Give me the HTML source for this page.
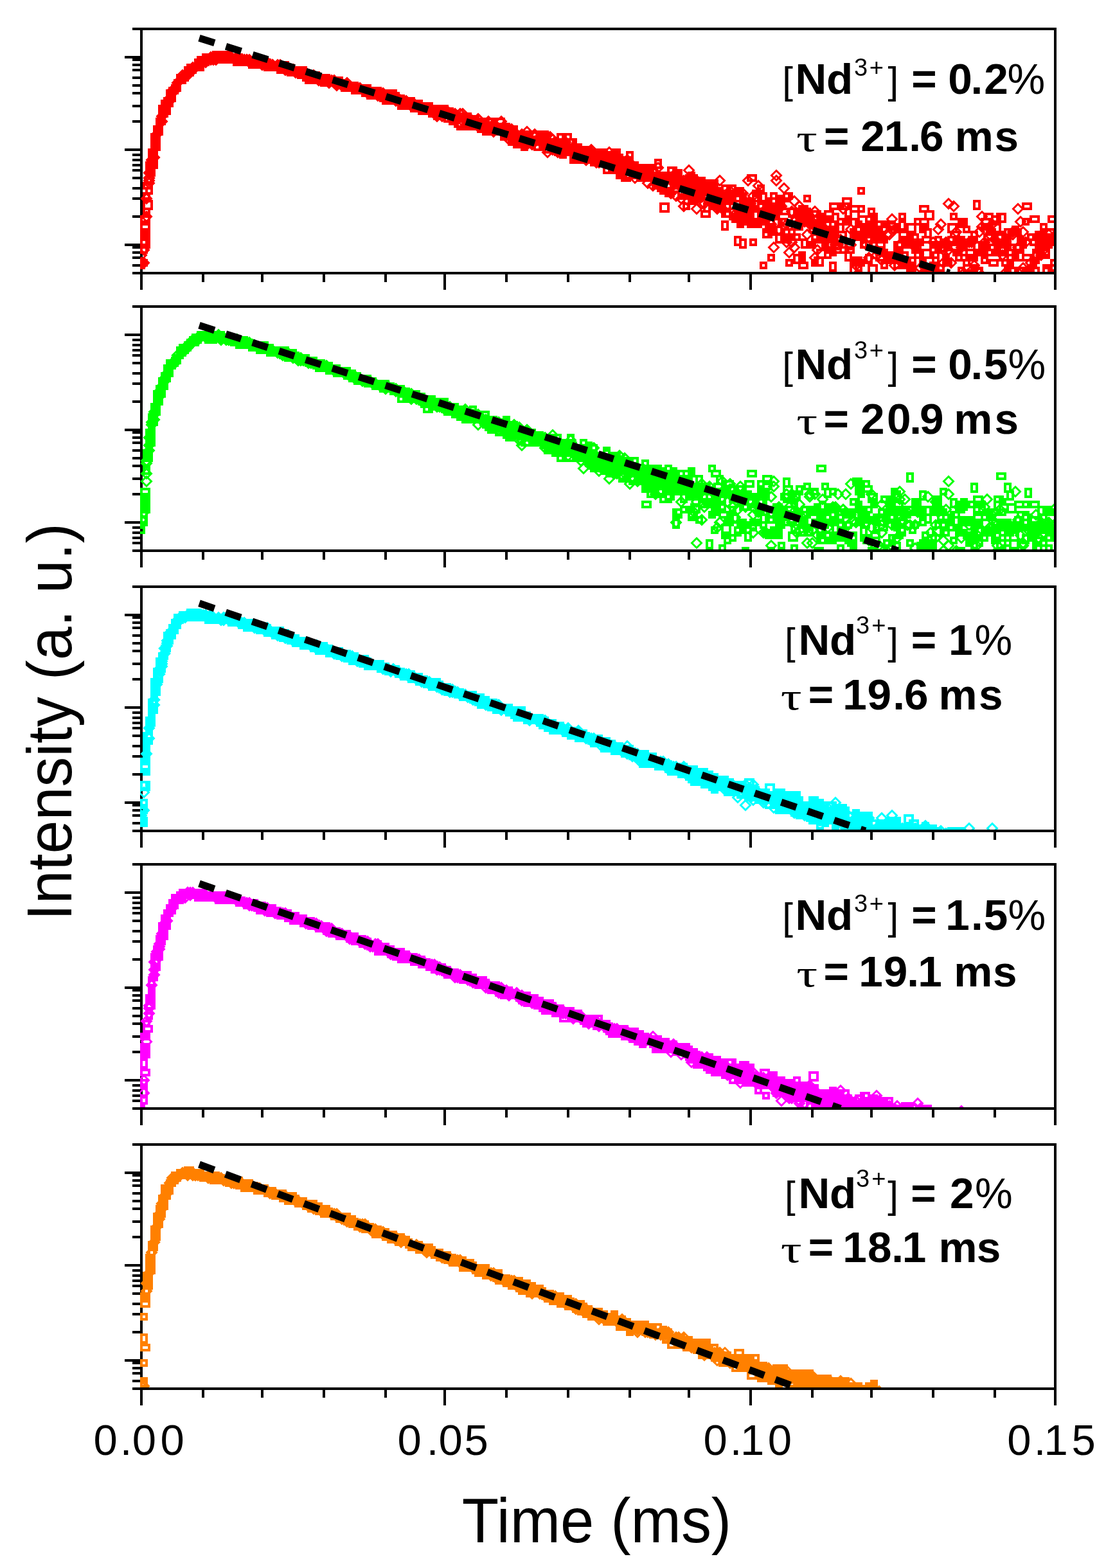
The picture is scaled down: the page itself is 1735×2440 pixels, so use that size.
<!DOCTYPE html>
<html><head><meta charset="utf-8"><title>Nd decay curves</title><style>
html,body{margin:0;padding:0;background:#fff;overflow:hidden}
svg{display:block}
text{fill:#000;font-family:"Liberation Sans",Arial,Helvetica,sans-serif}
.b{font-weight:bold;font-size:67.5px}
.r{font-weight:normal;font-size:60px}
.s{font-weight:normal;font-size:38px}
.p{font-weight:normal;font-size:66px}
.t{font-weight:normal;font-size:67px}
.tau{font-family:"Liberation Serif","Times New Roman",serif;font-weight:normal;font-size:58.5px}
.title{font-size:97.5px}
</style></head>
<body><svg xmlns="http://www.w3.org/2000/svg" width="1735" height="2440" viewBox="0 0 1735 2440">
<rect width="1735" height="2440" fill="#fff"/>
<rect x="206" y="43" width="1438" height="4"/>
<rect x="206" y="423" width="1438" height="4"/>
<rect x="218" y="43" width="4" height="408"/>
<rect x="1640" y="43" width="4" height="408"/>
<rect x="314" y="427" width="4" height="12"/>
<rect x="406" y="427" width="4" height="12"/>
<rect x="502" y="427" width="4" height="12"/>
<rect x="598" y="427" width="4" height="12"/>
<rect x="690" y="427" width="4" height="24"/>
<rect x="786" y="427" width="4" height="12"/>
<rect x="882" y="427" width="4" height="12"/>
<rect x="978" y="427" width="4" height="12"/>
<rect x="1070" y="427" width="4" height="12"/>
<rect x="1166" y="427" width="4" height="24"/>
<rect x="1262" y="427" width="4" height="12"/>
<rect x="1354" y="427" width="4" height="12"/>
<rect x="1450" y="427" width="4" height="12"/>
<rect x="1546" y="427" width="4" height="12"/>
<rect x="206" y="423" width="12" height="4"/>
<rect x="206" y="411" width="12" height="4"/>
<rect x="206" y="399" width="12" height="4"/>
<rect x="206" y="391" width="12" height="4"/>
<rect x="206" y="383" width="12" height="4"/>
<rect x="194" y="379" width="24" height="4"/>
<rect x="206" y="335" width="12" height="4"/>
<rect x="206" y="307" width="12" height="4"/>
<rect x="206" y="291" width="12" height="4"/>
<rect x="206" y="275" width="12" height="4"/>
<rect x="206" y="263" width="12" height="4"/>
<rect x="206" y="255" width="12" height="4"/>
<rect x="206" y="247" width="12" height="4"/>
<rect x="206" y="239" width="12" height="4"/>
<rect x="194" y="231" width="24" height="4"/>
<rect x="206" y="187" width="12" height="4"/>
<rect x="206" y="163" width="12" height="4"/>
<rect x="206" y="143" width="12" height="4"/>
<rect x="206" y="131" width="12" height="4"/>
<rect x="206" y="119" width="12" height="4"/>
<rect x="206" y="107" width="12" height="4"/>
<rect x="206" y="99" width="12" height="4"/>
<rect x="206" y="91" width="12" height="4"/>
<rect x="194" y="87" width="24" height="4"/>
<rect x="206" y="43" width="12" height="4"/>
<rect x="206" y="475" width="1438" height="4"/>
<rect x="206" y="855" width="1438" height="4"/>
<rect x="218" y="475" width="4" height="408"/>
<rect x="1640" y="475" width="4" height="408"/>
<rect x="314" y="859" width="4" height="12"/>
<rect x="406" y="859" width="4" height="12"/>
<rect x="502" y="859" width="4" height="12"/>
<rect x="598" y="859" width="4" height="12"/>
<rect x="690" y="859" width="4" height="24"/>
<rect x="786" y="859" width="4" height="12"/>
<rect x="882" y="859" width="4" height="12"/>
<rect x="978" y="859" width="4" height="12"/>
<rect x="1070" y="859" width="4" height="12"/>
<rect x="1166" y="859" width="4" height="24"/>
<rect x="1262" y="859" width="4" height="12"/>
<rect x="1354" y="859" width="4" height="12"/>
<rect x="1450" y="859" width="4" height="12"/>
<rect x="1546" y="859" width="4" height="12"/>
<rect x="206" y="855" width="12" height="4"/>
<rect x="206" y="843" width="12" height="4"/>
<rect x="206" y="835" width="12" height="4"/>
<rect x="206" y="827" width="12" height="4"/>
<rect x="206" y="819" width="12" height="4"/>
<rect x="194" y="811" width="24" height="4"/>
<rect x="206" y="767" width="12" height="4"/>
<rect x="206" y="743" width="12" height="4"/>
<rect x="206" y="723" width="12" height="4"/>
<rect x="206" y="711" width="12" height="4"/>
<rect x="206" y="699" width="12" height="4"/>
<rect x="206" y="687" width="12" height="4"/>
<rect x="206" y="679" width="12" height="4"/>
<rect x="206" y="671" width="12" height="4"/>
<rect x="194" y="667" width="24" height="4"/>
<rect x="206" y="623" width="12" height="4"/>
<rect x="206" y="595" width="12" height="4"/>
<rect x="206" y="579" width="12" height="4"/>
<rect x="206" y="563" width="12" height="4"/>
<rect x="206" y="551" width="12" height="4"/>
<rect x="206" y="543" width="12" height="4"/>
<rect x="206" y="535" width="12" height="4"/>
<rect x="206" y="527" width="12" height="4"/>
<rect x="194" y="519" width="24" height="4"/>
<rect x="206" y="475" width="12" height="4"/>
<rect x="206" y="911" width="1438" height="4"/>
<rect x="206" y="1291" width="1438" height="4"/>
<rect x="218" y="911" width="4" height="408"/>
<rect x="1640" y="911" width="4" height="408"/>
<rect x="314" y="1295" width="4" height="12"/>
<rect x="406" y="1295" width="4" height="12"/>
<rect x="502" y="1295" width="4" height="12"/>
<rect x="598" y="1295" width="4" height="12"/>
<rect x="690" y="1295" width="4" height="24"/>
<rect x="786" y="1295" width="4" height="12"/>
<rect x="882" y="1295" width="4" height="12"/>
<rect x="978" y="1295" width="4" height="12"/>
<rect x="1070" y="1295" width="4" height="12"/>
<rect x="1166" y="1295" width="4" height="24"/>
<rect x="1262" y="1295" width="4" height="12"/>
<rect x="1354" y="1295" width="4" height="12"/>
<rect x="1450" y="1295" width="4" height="12"/>
<rect x="1546" y="1295" width="4" height="12"/>
<rect x="206" y="1291" width="12" height="4"/>
<rect x="206" y="1279" width="12" height="4"/>
<rect x="206" y="1267" width="12" height="4"/>
<rect x="206" y="1259" width="12" height="4"/>
<rect x="206" y="1251" width="12" height="4"/>
<rect x="194" y="1247" width="24" height="4"/>
<rect x="206" y="1203" width="12" height="4"/>
<rect x="206" y="1175" width="12" height="4"/>
<rect x="206" y="1159" width="12" height="4"/>
<rect x="206" y="1143" width="12" height="4"/>
<rect x="206" y="1131" width="12" height="4"/>
<rect x="206" y="1123" width="12" height="4"/>
<rect x="206" y="1115" width="12" height="4"/>
<rect x="206" y="1107" width="12" height="4"/>
<rect x="194" y="1099" width="24" height="4"/>
<rect x="206" y="1055" width="12" height="4"/>
<rect x="206" y="1031" width="12" height="4"/>
<rect x="206" y="1011" width="12" height="4"/>
<rect x="206" y="999" width="12" height="4"/>
<rect x="206" y="987" width="12" height="4"/>
<rect x="206" y="975" width="12" height="4"/>
<rect x="206" y="967" width="12" height="4"/>
<rect x="206" y="959" width="12" height="4"/>
<rect x="194" y="955" width="24" height="4"/>
<rect x="206" y="911" width="12" height="4"/>
<rect x="206" y="1343" width="1438" height="4"/>
<rect x="206" y="1723" width="1438" height="4"/>
<rect x="218" y="1343" width="4" height="408"/>
<rect x="1640" y="1343" width="4" height="408"/>
<rect x="314" y="1727" width="4" height="12"/>
<rect x="406" y="1727" width="4" height="12"/>
<rect x="502" y="1727" width="4" height="12"/>
<rect x="598" y="1727" width="4" height="12"/>
<rect x="690" y="1727" width="4" height="24"/>
<rect x="786" y="1727" width="4" height="12"/>
<rect x="882" y="1727" width="4" height="12"/>
<rect x="978" y="1727" width="4" height="12"/>
<rect x="1070" y="1727" width="4" height="12"/>
<rect x="1166" y="1727" width="4" height="24"/>
<rect x="1262" y="1727" width="4" height="12"/>
<rect x="1354" y="1727" width="4" height="12"/>
<rect x="1450" y="1727" width="4" height="12"/>
<rect x="1546" y="1727" width="4" height="12"/>
<rect x="206" y="1723" width="12" height="4"/>
<rect x="206" y="1711" width="12" height="4"/>
<rect x="206" y="1703" width="12" height="4"/>
<rect x="206" y="1695" width="12" height="4"/>
<rect x="206" y="1687" width="12" height="4"/>
<rect x="194" y="1679" width="24" height="4"/>
<rect x="206" y="1635" width="12" height="4"/>
<rect x="206" y="1611" width="12" height="4"/>
<rect x="206" y="1591" width="12" height="4"/>
<rect x="206" y="1579" width="12" height="4"/>
<rect x="206" y="1567" width="12" height="4"/>
<rect x="206" y="1555" width="12" height="4"/>
<rect x="206" y="1547" width="12" height="4"/>
<rect x="206" y="1539" width="12" height="4"/>
<rect x="194" y="1535" width="24" height="4"/>
<rect x="206" y="1491" width="12" height="4"/>
<rect x="206" y="1463" width="12" height="4"/>
<rect x="206" y="1447" width="12" height="4"/>
<rect x="206" y="1431" width="12" height="4"/>
<rect x="206" y="1419" width="12" height="4"/>
<rect x="206" y="1411" width="12" height="4"/>
<rect x="206" y="1403" width="12" height="4"/>
<rect x="206" y="1395" width="12" height="4"/>
<rect x="194" y="1387" width="24" height="4"/>
<rect x="206" y="1343" width="12" height="4"/>
<rect x="206" y="1779" width="1438" height="4"/>
<rect x="206" y="2159" width="1438" height="4"/>
<rect x="218" y="1779" width="4" height="408"/>
<rect x="1640" y="1779" width="4" height="408"/>
<rect x="314" y="2163" width="4" height="12"/>
<rect x="406" y="2163" width="4" height="12"/>
<rect x="502" y="2163" width="4" height="12"/>
<rect x="598" y="2163" width="4" height="12"/>
<rect x="690" y="2163" width="4" height="24"/>
<rect x="786" y="2163" width="4" height="12"/>
<rect x="882" y="2163" width="4" height="12"/>
<rect x="978" y="2163" width="4" height="12"/>
<rect x="1070" y="2163" width="4" height="12"/>
<rect x="1166" y="2163" width="4" height="24"/>
<rect x="1262" y="2163" width="4" height="12"/>
<rect x="1354" y="2163" width="4" height="12"/>
<rect x="1450" y="2163" width="4" height="12"/>
<rect x="1546" y="2163" width="4" height="12"/>
<rect x="206" y="2159" width="12" height="4"/>
<rect x="206" y="2147" width="12" height="4"/>
<rect x="206" y="2135" width="12" height="4"/>
<rect x="206" y="2127" width="12" height="4"/>
<rect x="206" y="2119" width="12" height="4"/>
<rect x="194" y="2115" width="24" height="4"/>
<rect x="206" y="2071" width="12" height="4"/>
<rect x="206" y="2043" width="12" height="4"/>
<rect x="206" y="2027" width="12" height="4"/>
<rect x="206" y="2011" width="12" height="4"/>
<rect x="206" y="1999" width="12" height="4"/>
<rect x="206" y="1991" width="12" height="4"/>
<rect x="206" y="1983" width="12" height="4"/>
<rect x="206" y="1975" width="12" height="4"/>
<rect x="194" y="1967" width="24" height="4"/>
<rect x="206" y="1923" width="12" height="4"/>
<rect x="206" y="1899" width="12" height="4"/>
<rect x="206" y="1879" width="12" height="4"/>
<rect x="206" y="1867" width="12" height="4"/>
<rect x="206" y="1855" width="12" height="4"/>
<rect x="206" y="1843" width="12" height="4"/>
<rect x="206" y="1835" width="12" height="4"/>
<rect x="206" y="1827" width="12" height="4"/>
<rect x="194" y="1823" width="24" height="4"/>
<rect x="206" y="1779" width="12" height="4"/>
<marker id="s1_1212" markerUnits="userSpaceOnUse" markerWidth="12" markerHeight="12" refX="0" refY="0" overflow="visible"><path d="M2 2h8v8h-8z" fill="none" stroke="#ff0000" stroke-width="4" shape-rendering="crispEdges"/></marker>
<marker id="d1" markerUnits="userSpaceOnUse" markerWidth="20" markerHeight="20" refX="10" refY="10" overflow="visible"><path d="M10 2.5l7.5 7.5l-7.5 7.5l-7.5-7.5z" fill="none" stroke="#ff0000" stroke-width="3"/></marker>
<marker id="s1_1216" markerUnits="userSpaceOnUse" markerWidth="12" markerHeight="16" refX="0" refY="0" overflow="visible"><path d="M2 2h8v12h-8z" fill="none" stroke="#ff0000" stroke-width="4" shape-rendering="crispEdges"/></marker>
<marker id="s1_1616" markerUnits="userSpaceOnUse" markerWidth="16" markerHeight="16" refX="0" refY="0" overflow="visible"><path d="M2 2h12v12h-12z" fill="none" stroke="#ff0000" stroke-width="4" shape-rendering="crispEdges"/></marker>
<marker id="s1_1612" markerUnits="userSpaceOnUse" markerWidth="16" markerHeight="12" refX="0" refY="0" overflow="visible"><path d="M2 2h12v8h-12z" fill="none" stroke="#ff0000" stroke-width="4" shape-rendering="crispEdges"/></marker>
<clipPath id="c1"><rect x="218" y="47" width="1422" height="376"/></clipPath>
<g clip-path="url(#c1)" fill="none" stroke="none">
<polyline points="214,407 214,403 218,371 222,323 226,291 234,227 234,227 238,207 242,183 250,171 250,167 250,159 254,159 262,135 270,127 270,123 270,123 274,119 274,119 274,119 278,115 282,115 282,111 286,107 294,99 294,103 298,99 298,99 298,99 302,95 306,91 310,91 314,83 318,87 326,87 330,79 330,83 334,83 334,83 334,83 342,83 346,83 350,83 358,83 358,83 358,83 362,83 366,87 366,87 370,87 370,91 374,87 378,87 382,87 382,91 386,91 386,87 390,91 402,91 406,91 410,91 414,95 414,95 422,95 422,99 426,99 426,95 434,99 442,103 446,99 450,103 450,103 450,103 454,107 454,103 458,103 458,107 458,107 466,111 474,119 474,115 478,111 482,115 482,115 490,115 494,119 502,119 502,119 502,119 506,119 510,123 518,123 522,123 526,123 530,127 530,123 534,127 534,127 538,127 546,127 550,135 558,135 558,135 570,135 574,139 578,139 586,139 590,143 594,143 598,139 598,147 602,143 606,143 610,151 614,147 618,151 630,151 634,151 634,159 634,155 638,159 642,155 646,159 646,163 650,167 650,159 654,163 654,163 662,163 662,159 674,171 678,171 686,171 686,171 690,179 698,183 702,171 702,179 706,179 714,179 714,175 718,175 722,183 722,191 730,191 730,187 734,191 742,195 742,191 750,191 754,195 758,183 766,191 770,199 770,191 774,195 774,195 778,191 778,195 782,203 790,203 790,199 794,203 794,195 798,211 806,203 806,211 810,223 814,215 818,211 818,215 830,215 834,211 838,223 842,219 842,215 846,219 862,231 866,207 870,231 874,231 874,223 874,219 878,223 878,207 882,215 886,243 890,227 894,223 898,243 906,243 906,235 910,231 910,239 914,235 926,243 926,243 942,247 942,251 946,255 946,247 950,231 950,247 954,247 954,259 958,255 958,247 958,239 962,243 970,255 974,235 978,259 978,259 982,251 986,259 986,259 990,259 994,259 1002,267 1002,255 1006,255 1006,271 1006,259 1010,271 1014,275 1014,283 1018,271 1026,275 1034,283 1034,283 1034,267 1034,295 1038,295 1042,279 1046,283 1046,283 1054,295 1062,315 1062,287 1074,287 1074,271 1074,287 1082,287 1090,279 1090,287 1090,291 1094,299 1094,291 1098,287 1106,279 1110,315 1114,319 1118,319 1126,295 1126,327 1134,303 1142,319 1142,295 1146,335 1146,343 1150,311 1154,339 1158,315 1162,323 1166,343 1166,371 1170,295 1170,343 1170,303 1174,343 1174,295 1174,295 1178,323 1182,407 1182,323 1186,311 1190,347 1194,395 1198,299 1198,319 1210,307 1214,363 1218,367 1218,355 1222,403 1230,335 1234,323 1238,347 1238,327 1242,335 1250,339 1250,303 1254,375 1258,375 1262,403 1270,339 1270,367 1282,343 1286,359 1286,383 1290,387 1306,375 1310,315 1310,339 1322,399 1330,343 1330,359 1330,411 1334,319 1334,403 1334,291 1338,367 1342,347 1342,351 1354,351 1354,375 1354,339 1370,343 1370,387 1370,367 1382,391 1382,343 1386,399 1390,351 1390,347 1390,387 1398,331 1402,403 1402,391 1410,411 1410,375 1410,359 1414,399 1414,375 1418,383 1422,339 1426,371 1430,351 1430,347 1430,403 1434,411 1438,411 1450,399 1450,391 1450,375 1454,367 1454,423 1458,411 1466,399 1466,395 1470,403 1470,403 1478,331 1482,387 1486,395 1490,415 1494,339 1494,387 1498,419 1498,351 1498,403 1510,367 1510,411 1526,347 1526,399 1534,351 1534,387 1538,355 1538,379 1546,383 1558,403 1562,411 1566,407 1566,407 1570,379 1574,355 1574,351 1574,391 1582,415 1590,339 1594,419 1598,411 1598,363 1602,371 1606,423 1610,359 1610,363 1610,359 1614,359 1618,347 1618,347 1634,403 218,403 218,359 222,359 222,299 230,259 230,243 234,231 234,227 238,207 242,191 242,191 242,183 246,179 246,179 246,175 250,171 250,167" marker-start="url(#s1_1212)" marker-mid="url(#s1_1212)" marker-end="url(#s1_1212)"/>
<polyline points="220,397 228,309 232,285 232,277 236,249 252,189 252,181 256,173 264,157 264,153 268,141 272,141 276,129 284,117 288,117 288,117 292,117 292,117 292,113 296,109 300,109 300,105 304,105 312,97 320,97 320,93 320,93 328,93 328,89 332,89 332,93 336,93 348,89 356,89 360,89 368,93 368,89 372,93 376,93 380,93 380,93 384,93 384,93 388,93 388,97 396,97 400,97 408,101 412,101 412,101 416,101 416,97 420,101 420,101 424,101 424,101 424,101 432,101 436,101 440,105 440,105 444,105 444,105 444,109 444,105 448,109 456,109 460,113 464,113 468,113 468,113 468,113 476,117 476,117 476,113 480,117 488,117 492,121 496,125 496,125 504,125 512,129 516,125 520,129 520,125 524,133 524,129 528,129 532,133 532,133 540,129 544,133 560,137 568,141 568,141 572,145 572,141 576,145 584,145 584,145 584,145 584,145 588,149 592,149 592,145 596,145 600,149 608,153 612,149 616,157 620,153 620,157 624,157 628,157 632,157 632,161 636,161 640,165 644,161 648,165 656,169 664,169 664,169 668,169 676,177 676,173 680,181 680,173 688,181 688,177 692,177 696,173 696,173 700,181 700,181 704,181 704,177 708,177 712,185 712,181 716,177 720,189 720,177 724,185 732,193 732,185 736,193 740,193 744,185 744,197 748,193 756,193 756,197 760,189 764,201 768,193 768,193 768,201 768,205 780,189 784,197 784,201 792,217 792,209 792,217 796,201 804,209 804,217 812,209 820,225 820,205 824,217 828,225 832,213 832,213 832,209 840,213 844,221 852,237 856,225 856,213 856,229 860,217 860,229 860,225 860,233 864,225 864,233 868,237 876,225 876,233 880,221 884,229 888,233 892,229 892,229 904,237 912,249 912,249 912,245 920,237 920,233 924,241 928,249 928,253 928,245 932,253 940,249 940,245 944,245 944,245 948,245 948,237 972,269 976,249 980,261 984,257 988,277 988,265 988,261 996,269 1004,269 1004,273 1008,285 1016,265 1016,289 1020,281 1024,261 1036,277 1044,281 1044,301 1048,273 1052,305 1056,285 1060,285 1060,309 1060,281 1064,321 1064,293 1064,281 1064,285 1068,285 1068,293 1072,265 1072,281 1076,305 1084,325 1084,281 1092,317 1096,317 1100,293 1104,301 1108,305 1116,321 1116,325 1120,281 1124,325 1128,309 1132,301 1136,297 1144,333 1156,301 1160,337 1160,317 1164,281 1168,317 1172,305 1180,289 1192,325 1192,333 1200,349 1204,385 1208,281 1208,273 1212,357 1216,321 1220,293 1224,349 1224,377 1228,393 1232,377 1232,329 1236,385 1236,345 1236,313 1240,349 1244,321 1252,345 1256,365 1260,345 1260,349 1264,345 1264,349 1268,329 1268,401 1272,389 1276,349 1280,341 1284,357 1300,381 1304,373 1304,381 1308,373 1308,373 1312,325 1324,381 1324,357 1332,429 1332,413 1348,381 1352,369 1352,401 1364,397 1364,389 1372,405 1380,365 1384,365 1388,341 1392,413 1392,357 1400,381 1400,381 1424,385 1432,417 1440,421 1440,417 1452,377 1460,357 1464,349 1468,409 1468,385 1468,389 1472,377 1476,317 1476,389 1480,409 1484,321 1488,361 1496,385 1500,425 1508,377 1512,421 1512,377 1516,413 1520,421 1524,425 1524,361 1528,353 1528,337 1532,377 1540,365 1544,349 1548,373 1552,377 1560,397 1564,425 1576,361 1576,365 1584,325 1584,385 1588,345 1592,361 1592,417 1596,377 1604,409 1620,397 1624,389 1632,365 220,409 220,409 224,409 224,389 228,337 232,281 232,277 232,269 236,257 240,245 244,209 256,169" marker-start="url(#d1)" marker-mid="url(#d1)" marker-end="url(#d1)"/>
<polyline points="218,379 230,259 234,235 238,203 238,199 242,195 242,191 246,171 266,131 270,127 278,115 286,103 302,95 306,87 318,83 330,79 338,83 338,83 342,79 346,83 346,83 354,83 354,83 362,87 366,83 370,87 378,87 386,87 386,91 394,87 394,91 398,91 398,87 402,91 422,95 426,95 430,95 430,95 446,103 446,99 470,111 478,111 486,115 486,111 486,111 490,115 498,119 498,115 502,115 506,119 522,123 522,123 522,123 534,127 538,127 542,127 542,127 542,127 542,127 554,131 562,135 562,131 562,135 566,131 574,135 574,135 574,139 582,135 590,139 598,143 598,143 606,147 610,143 610,147 626,151 630,151 630,151 638,155 638,159 642,155 646,159 650,159 654,159 662,159 670,163 674,171 678,167 678,163 694,167 722,175 722,183 726,187 726,183 726,183 734,179 734,179 742,187 742,187 746,191 750,195 758,195 762,191 770,191 782,191 802,207 802,203 822,211 822,215 830,211 830,219 834,207 834,211 838,211 850,215 854,223 858,223 862,215 862,223 866,219 866,227 870,231 878,223 882,223 890,231 898,239 914,239 918,231 918,231 934,243 934,239 938,243 938,247 950,243 954,231 954,247 974,247 974,243 978,263 978,263 986,263 998,259 1018,279 1018,247 1022,283 1026,283 1026,287 1030,267 1046,267 1054,295 1066,271 1070,267 1086,291 1094,315 1098,283 1102,279 1106,295 1106,279 1106,299 1114,299 1114,291 1122,343 1122,287 1126,295 1134,287 1134,287 1142,367 1142,299 1146,319 1150,299 1150,371 1158,307 1170,311 1178,287 1178,315 1182,299 1186,355 1190,307 1194,351 1198,319 1206,351 1206,303 1206,363 1210,307 1218,299 1222,343 1226,355 1238,331 1242,391 1242,327 1246,331 1246,371 1254,331 1258,347 1274,351 1274,363 1278,375 1278,359 1282,387 1290,355 1290,407 1294,351 1294,331 1298,379 1314,391 1314,323 1322,411 1322,355 1338,371 1346,395 1350,323 1354,331 1358,355 1362,355 1370,403 1374,391 1374,395 1394,387 1398,343 1398,403 1414,399 1414,411 1422,375 1422,387 1438,355 1442,411 1442,411 1446,411 1454,379 1466,371 1470,375 1474,367 1486,391 1490,339 1494,371 1506,367 1510,359 1514,311 1514,375 1522,379 1526,375 1554,383 1562,363 1562,355 1582,391 1582,367 1586,371 1590,415 1602,403 1606,387 1606,391 1622,383 1622,415 1630,363 234,219 242,187 254,159 254,159" marker-start="url(#s1_1216)" marker-mid="url(#s1_1216)" marker-end="url(#s1_1216)"/>
<polyline points="218,371 218,355 218,335 226,251 230,247 234,219 234,207 250,163 250,155 254,151 258,143 258,139 274,115 302,95 306,87 314,83 338,83 346,79 346,83 354,83 358,83 370,87 378,87 398,91 398,91 410,95 418,95 418,95 430,99 434,95 438,99 446,103 462,103 462,107 482,115 498,115 502,119 514,119 518,119 526,123 530,127 538,127 542,127 546,131 554,131 558,131 570,139 578,139 578,139 590,139 590,143 590,139 594,147 610,147 614,147 618,155 642,155 650,163 654,159 662,163 666,163 666,167 678,163 690,175 702,175 706,183 710,187 742,183 742,191 750,191 766,191 778,203 782,203 790,211 794,203 794,207 798,215 802,207 810,207 814,203 814,207 826,203 838,203 870,223 886,239 898,227 898,227 902,227 922,231 926,235 926,235 958,243 958,259 958,251 958,263 966,267 970,263 990,259 990,267 1002,267 1010,267 1018,275 1018,279 1022,267 1022,271 1026,315 1038,259 1042,275 1046,263 1066,295 1066,275 1070,303 1074,299 1094,287 1102,303 1102,311 1106,307 1114,295 1122,323 1122,315 1134,323 1142,291 1146,335 1154,311 1154,307 1158,323 1162,339 1190,315 1202,339 1206,311 1226,323 1234,395 1250,335 1266,427 1266,399 1270,387 1278,355 1282,371 1282,327 1298,347 1322,327 1326,351 1334,335 1350,411 1354,359 1362,359 1378,343 1390,403 1390,375 1398,359 1398,427 1402,367 1410,347 1430,339 1434,387 1438,327 1446,379 1474,347 1486,367 1490,371 1502,387 1526,339 1542,347 1546,363 1550,331 1550,359 1550,379 1554,379 1558,371 1578,423 1602,415 1614,367 1618,387 1622,411 1622,371 1630,367 1634,363 218,343 222,311 230,243 246,163" marker-start="url(#s1_1616)" marker-mid="url(#s1_1616)" marker-end="url(#s1_1616)"/>
<polyline points="218,359 226,263 230,231 238,195 242,183 254,151 258,143 258,139 266,131 266,131 274,115 286,103 286,107 290,99 302,95 302,91 302,91 306,91 310,91 318,87 318,87 322,87 322,87 326,87 334,83 334,83 334,83 342,83 350,87 354,83 386,87 390,91 390,87 394,91 394,87 406,91 410,99 426,95 438,99 446,103 454,107 462,107 466,111 466,107 470,111 478,115 478,115 486,115 490,119 494,115 494,119 502,123 506,119 510,123 514,123 530,127 538,127 542,131 546,131 550,131 550,135 554,131 554,135 566,139 566,135 586,139 598,147 602,139 602,147 614,151 618,151 618,151 622,155 626,151 630,159 638,159 650,167 658,163 662,167 666,167 666,167 682,171 682,167 682,163 686,167 686,167 698,171 702,179 706,179 710,175 714,179 718,183 726,183 734,183 734,183 746,195 754,199 758,195 762,195 762,199 770,183 770,199 782,195 786,203 790,199 790,195 806,207 806,219 810,207 814,207 822,211 830,211 830,215 838,203 842,207 842,219 846,227 854,215 862,223 882,231 882,215 886,239 886,231 890,235 894,231 894,235 894,239 902,231 906,227 910,239 918,247 922,231 922,239 930,243 930,231 938,259 942,243 946,235 946,235 962,251 962,255 966,251 966,247 986,255 986,263 994,263 994,271 994,271 998,267 1002,271 1006,267 1018,267 1030,275 1030,283 1038,267 1046,279 1050,283 1062,295 1074,275 1078,287 1078,303 1082,275 1082,291 1082,275 1086,287 1090,327 1102,315 1114,311 1126,307 1130,295 1130,303 1134,295 1134,331 1138,335 1162,319 1162,271 1178,335 1178,323 1182,339 1186,359 1190,323 1198,323 1198,327 1210,339 1214,323 1218,299 1230,363 1234,327 1242,407 1242,319 1246,323 1262,327 1262,343 1262,363 1270,331 1278,335 1282,355 1286,367 1290,351 1290,315 1302,427 1302,339 1302,359 1306,315 1306,383 1310,339 1310,307 1310,339 1314,383 1322,319 1326,399 1326,363 1338,355 1346,335 1346,351 1350,359 1358,355 1362,395 1362,375 1362,343 1362,363 1374,391 1378,391 1394,375 1402,407 1414,363 1414,423 1418,379 1430,319 1434,367 1446,407 1470,423 1478,359 1490,423 1506,395 1514,415 1518,387 1530,363 1530,331 1538,403 1542,387 1542,335 1554,395 1562,387 1566,395 1566,415 1570,415 1574,355 1578,379 1590,395 1590,315 1590,395 1598,363 1602,399 1602,335 1610,375 1618,387 1622,367 1626,355 1626,363 1630,335 1634,411 222,283 234,215 234,211 238,199 246,171" marker-start="url(#s1_1612)" marker-mid="url(#s1_1612)" marker-end="url(#s1_1612)"/>
<line x1="310" y1="59.2" x2="1477.5" y2="425" stroke="#000" stroke-width="11" stroke-dasharray="25 18.5"/>
</g>
<marker id="s2_1216" markerUnits="userSpaceOnUse" markerWidth="12" markerHeight="16" refX="0" refY="0" overflow="visible"><path d="M2 2h8v12h-8z" fill="none" stroke="#00ff00" stroke-width="4" shape-rendering="crispEdges"/></marker>
<marker id="d2" markerUnits="userSpaceOnUse" markerWidth="20" markerHeight="20" refX="10" refY="10" overflow="visible"><path d="M10 2.5l7.5 7.5l-7.5 7.5l-7.5-7.5z" fill="none" stroke="#00ff00" stroke-width="3"/></marker>
<marker id="s2_1612" markerUnits="userSpaceOnUse" markerWidth="16" markerHeight="12" refX="0" refY="0" overflow="visible"><path d="M2 2h12v8h-12z" fill="none" stroke="#00ff00" stroke-width="4" shape-rendering="crispEdges"/></marker>
<marker id="s2_1212" markerUnits="userSpaceOnUse" markerWidth="12" markerHeight="12" refX="0" refY="0" overflow="visible"><path d="M2 2h8v8h-8z" fill="none" stroke="#00ff00" stroke-width="4" shape-rendering="crispEdges"/></marker>
<marker id="s2_1616" markerUnits="userSpaceOnUse" markerWidth="16" markerHeight="16" refX="0" refY="0" overflow="visible"><path d="M2 2h12v12h-12z" fill="none" stroke="#00ff00" stroke-width="4" shape-rendering="crispEdges"/></marker>
<clipPath id="c2"><rect x="218" y="479" width="1422" height="376"/></clipPath>
<g clip-path="url(#c2)" fill="none" stroke="none">
<polyline points="214,815 230,655 234,631 238,619 242,607 246,595 258,571 262,559 266,555 270,551 274,543 278,535 282,535 282,535 286,531 294,523 294,523 298,519 306,515 306,515 306,515 314,515 318,519 318,515 322,515 330,515 334,515 338,515 338,515 346,519 358,519 366,523 374,527 374,527 378,527 382,527 390,531 398,531 402,535 414,539 414,535 426,539 438,539 438,543 446,543 450,547 454,547 462,551 466,551 466,551 474,555 474,555 490,563 490,559 490,563 494,559 494,559 498,563 502,563 506,563 506,567 510,567 518,567 518,571 522,571 534,571 534,575 538,575 542,579 546,579 550,583 554,583 562,583 566,587 566,583 574,587 582,591 582,591 582,591 586,591 590,591 598,595 598,595 602,595 614,599 618,599 618,603 626,603 626,607 646,611 646,611 646,611 650,615 650,611 654,619 658,615 666,623 678,623 682,623 682,623 686,619 686,623 694,631 694,627 698,627 698,627 706,635 710,635 714,639 718,643 722,643 726,643 726,643 730,631 734,639 734,643 750,647 758,659 782,667 782,647 786,659 786,655 798,667 806,667 810,671 814,667 826,675 842,683 858,687 858,695 862,683 870,691 874,691 878,687 890,703 902,683 906,691 918,691 930,703 938,695 938,699 942,711 958,723 962,731 966,711 974,715 978,719 982,727 986,731 990,727 1002,731 1006,743 1014,743 1018,747 1022,727 1030,735 1034,755 1034,767 1034,723 1038,731 1042,727 1046,731 1046,807 1050,751 1054,731 1058,767 1066,759 1066,739 1070,727 1070,763 1070,791 1074,755 1082,739 1094,751 1098,763 1098,839 1110,771 1114,739 1118,847 1126,831 1130,803 1134,767 1142,819 1150,763 1158,827 1162,775 1166,811 1174,787 1174,783 1178,771 1178,747 1178,755 1186,787 1198,823 1210,787 1214,787 1218,743 1218,803 1226,799 1230,847 1234,763 1238,755 1242,819 1242,807 1242,803 1254,819 1270,791 1270,815 1270,819 1274,779 1274,807 1282,799 1282,759 1286,783 1290,831 1298,827 1302,827 1314,791 1322,827 1322,831 1322,839 1330,743 1334,799 1338,819 1342,807 1378,771 1378,787 1382,831 1390,811 1390,763 1390,843 1398,819 1410,735 1430,763 1430,791 1438,787 1438,799 1438,843 1458,799 1474,811 1478,775 1486,819 1498,803 1502,803 1502,835 1506,803 1510,751 1514,783 1518,835 1526,819 1530,819 1534,795 1542,807 1546,827 1546,779 1546,823 1558,807 1562,827 1562,751 1566,763 1566,819 1574,855 1574,815 1582,811 1590,831 1590,795 1594,759 1610,811 1610,847 1614,787 1614,815 218,791 222,783 222,723 222,699 226,691 226,683 242,599 246,587 250,583 254,575" marker-start="url(#s2_1216)" marker-mid="url(#s2_1216)" marker-end="url(#s2_1216)"/>
<polyline points="220,809 224,797 228,737 228,721 232,701 232,693 232,681 240,641 248,609 256,593 256,589 260,581 268,565 272,565 276,553 276,553 288,545 288,541 292,541 292,537 292,541 296,537 296,533 300,529 304,529 308,529 308,525 320,525 328,525 332,525 340,525 340,525 340,521 344,525 344,529 348,525 352,529 356,529 356,529 364,529 372,533 388,533 392,537 396,537 412,541 412,541 420,545 420,545 424,545 432,549 436,549 436,549 440,553 448,549 448,553 448,553 456,553 456,557 456,553 460,557 464,561 468,557 468,561 472,561 476,561 476,561 480,565 484,565 488,565 488,565 500,569 504,569 508,569 520,577 524,577 536,581 536,581 544,585 548,585 552,585 552,589 556,589 560,589 564,593 576,593 580,597 584,597 584,597 584,597 592,601 600,605 600,605 604,601 612,605 612,605 612,605 616,605 616,609 620,609 628,609 632,613 640,621 640,613 640,613 648,621 656,625 656,621 672,625 672,625 680,633 680,629 684,633 688,633 692,637 696,633 700,633 708,641 712,641 716,645 720,641 720,641 724,637 728,645 732,649 736,645 736,645 740,645 744,661 744,645 748,653 748,649 748,649 748,649 752,653 756,653 764,665 764,657 768,657 768,657 772,661 776,665 776,661 776,657 776,669 784,661 788,669 792,669 796,669 796,669 800,673 800,661 804,673 804,673 804,665 808,677 808,665 808,685 812,685 812,693 812,673 816,677 816,673 820,669 820,669 824,673 828,685 836,685 836,681 840,685 848,697 848,681 856,689 856,697 860,677 860,689 872,693 876,701 876,697 884,709 888,685 888,701 892,697 892,701 896,705 900,705 900,701 904,717 908,729 908,705 912,705 912,709 916,705 924,697 932,713 932,725 932,733 936,729 936,713 948,745 948,721 952,733 956,737 960,733 960,737 964,709 964,721 968,717 972,737 972,713 976,729 980,733 980,737 980,753 988,729 992,749 996,741 1000,729 1012,737 1012,733 1016,741 1020,769 1024,745 1036,757 1044,741 1048,749 1052,813 1060,781 1060,749 1060,761 1064,757 1076,761 1080,797 1084,781 1084,845 1092,765 1092,753 1092,809 1096,789 1100,761 1104,757 1108,765 1116,821 1120,813 1124,765 1124,749 1128,765 1132,781 1136,761 1136,753 1140,789 1144,805 1148,781 1148,793 1148,773 1152,757 1160,789 1168,781 1172,829 1172,801 1176,785 1180,797 1184,781 1188,829 1192,829 1200,773 1200,849 1200,797 1204,749 1204,757 1212,789 1224,769 1224,801 1228,789 1232,769 1232,813 1236,777 1240,829 1240,817 1244,785 1244,825 1248,805 1256,845 1260,773 1260,769 1264,845 1264,825 1268,769 1272,833 1280,777 1288,821 1296,789 1300,789 1304,769 1312,793 1312,793 1316,797 1316,769 1320,817 1324,753 1324,801 1328,809 1332,813 1348,813 1352,841 1356,821 1356,769 1368,849 1372,817 1372,829 1372,785 1376,813 1380,857 1388,805 1388,817 1396,837 1400,777 1400,765 1404,813 1404,809 1408,777 1412,817 1412,797 1416,817 1424,853 1424,817 1428,797 1444,773 1448,829 1456,817 1456,781 1456,837 1460,797 1468,841 1468,857 1472,793 1476,849 1476,769 1476,749 1488,857 1492,789 1496,837 1508,817 1520,849 1528,825 1532,789 1536,777 1540,821 1544,809 1544,821 1544,801 1548,861 1552,861 1552,849 1556,793 1580,765 1584,809 1588,833 1592,845 1592,849 1592,849 1600,825 1612,801 1616,837 1620,813 1624,829 1628,821 1632,817 1632,813 1640,793 1640,817 224,777 228,749 228,717 236,661 236,657 240,653 240,645 248,617 252,601 256,593 256,589" marker-start="url(#d2)" marker-mid="url(#d2)" marker-end="url(#d2)"/>
<polyline points="214,795 218,759 222,707 226,683 230,651 230,643 234,627 238,615 246,595 246,591 246,591 250,583 254,567 266,555 294,527 302,519 302,519 330,519 338,519 346,519 350,523 354,523 354,523 358,523 358,523 358,523 358,527 362,527 362,523 366,527 366,523 378,531 386,531 386,531 386,535 390,535 390,531 394,535 394,535 398,539 398,535 406,539 410,535 410,539 414,539 418,539 422,543 426,543 426,543 430,543 442,547 450,547 458,551 462,551 474,555 482,559 486,559 494,563 502,567 502,567 502,567 510,567 510,567 514,567 518,571 522,571 522,575 526,575 526,571 542,579 546,583 554,583 558,587 562,583 570,587 574,591 578,591 586,595 586,595 590,595 590,599 594,599 598,599 602,599 606,603 614,603 618,607 626,607 634,611 638,611 650,615 654,615 670,623 682,627 686,627 686,627 690,635 694,635 698,627 702,639 706,631 726,643 730,643 742,647 746,651 758,647 770,655 774,651 774,651 778,667 778,655 786,675 790,655 806,663 818,671 818,667 826,675 830,683 834,675 834,679 834,683 838,675 846,691 846,675 862,683 866,695 870,683 878,707 882,699 902,703 906,699 914,707 918,707 918,711 922,711 926,715 930,711 934,727 938,715 946,723 958,711 962,719 966,727 966,719 970,711 978,727 990,743 998,779 1002,755 1010,727 1014,739 1022,759 1030,739 1034,759 1034,767 1034,755 1042,751 1062,759 1062,755 1086,779 1086,755 1090,759 1106,731 1106,783 1110,751 1114,771 1114,783 1118,795 1126,747 1126,763 1142,819 1142,755 1146,755 1146,807 1150,811 1154,783 1158,747 1162,731 1166,807 1178,775 1186,751 1186,739 1186,823 1190,803 1194,787 1198,819 1202,819 1202,827 1210,799 1214,767 1222,787 1246,795 1250,815 1254,791 1258,787 1262,807 1266,851 1270,723 1274,835 1286,783 1298,799 1310,811 1310,811 1322,775 1330,807 1334,791 1338,831 1338,799 1342,755 1354,827 1354,835 1366,815 1370,771 1374,839 1378,847 1386,787 1410,855 1410,787 1414,859 1418,775 1422,791 1426,787 1426,855 1442,831 1442,843 1446,855 1450,771 1450,775 1458,791 1478,795 1478,795 1486,851 1490,823 1502,835 1514,799 1518,779 1522,831 1530,823 1530,791 1538,791 1542,835 1542,807 1546,771 1550,735 1554,823 1554,811 1578,779 1578,811 1586,807 1590,799 1594,815 1598,823 1598,831 1598,819 1602,803 1602,779 1606,811 1614,819 1614,827 1622,787 1626,831 1626,791 1630,819 1634,831 226,679 226,675 226,667 234,635 234,627 246,587" marker-start="url(#s2_1612)" marker-mid="url(#s2_1612)" marker-end="url(#s2_1612)"/>
<polyline points="218,775 218,803 230,671 230,663 234,639 238,623 242,611 246,603 254,579 258,567 262,563 262,563 266,555 270,551 270,551 274,543 274,543 278,539 278,543 278,539 286,531 290,527 290,527 298,523 298,527 306,519 310,519 310,519 314,519 314,519 318,515 322,519 326,519 330,519 342,519 342,523 346,519 350,523 354,523 370,527 374,527 374,527 378,531 382,527 382,531 386,531 386,531 394,535 402,535 406,539 410,539 410,535 418,539 418,539 422,543 422,543 426,539 434,547 434,543 438,547 442,543 454,551 458,551 458,551 466,551 470,555 470,555 474,559 482,555 486,559 486,559 486,559 490,563 506,567 506,567 510,571 518,575 522,575 526,575 530,575 530,575 534,579 538,579 542,579 542,579 546,583 550,579 554,583 554,583 558,583 558,583 562,583 566,587 570,587 570,591 578,591 586,595 590,599 598,595 602,599 606,603 614,603 614,603 618,603 622,607 622,607 626,611 630,611 630,607 634,607 638,611 642,607 642,611 646,611 654,619 658,619 658,615 658,623 662,619 662,623 666,623 670,623 670,623 670,623 670,627 674,623 678,623 682,623 686,631 694,631 702,631 702,631 706,631 710,631 718,639 718,639 722,643 722,639 726,639 730,643 738,647 742,647 746,647 750,655 754,655 754,659 754,655 762,655 762,655 766,651 766,655 774,659 778,659 782,663 794,671 794,663 798,667 802,671 814,667 822,679 822,671 822,683 826,671 826,671 826,683 830,679 834,675 838,679 842,675 846,675 846,695 846,683 854,695 862,687 862,699 862,691 866,707 866,695 870,695 874,691 874,691 878,695 882,675 886,691 890,707 890,703 894,699 898,703 898,707 898,703 906,703 910,703 910,687 910,715 914,699 922,719 926,703 934,719 934,715 934,723 942,715 950,711 954,731 962,715 966,711 978,727 982,711 986,735 986,727 990,731 994,735 998,731 998,715 998,743 998,727 998,755 1010,743 1010,723 1014,747 1014,763 1018,739 1018,723 1022,751 1022,759 1022,735 1026,771 1026,735 1030,747 1042,759 1042,755 1050,759 1050,791 1054,739 1058,743 1058,787 1070,787 1074,767 1082,803 1082,751 1082,759 1090,755 1094,759 1094,775 1098,779 1102,795 1102,723 1102,759 1106,819 1106,791 1106,779 1122,759 1122,827 1126,807 1134,831 1134,787 1138,763 1146,775 1150,815 1154,767 1154,851 1158,763 1158,763 1162,775 1166,767 1170,771 1174,783 1182,763 1182,811 1190,827 1194,851 1202,799 1210,843 1210,811 1210,791 1214,799 1226,795 1230,779 1234,791 1238,791 1246,803 1246,787 1246,787 1250,751 1254,855 1258,855 1262,787 1262,759 1266,783 1270,811 1278,751 1278,811 1282,787 1286,835 1286,807 1290,759 1294,807 1294,803 1294,787 1302,847 1302,791 1306,819 1306,831 1310,795 1314,835 1318,839 1326,743 1330,787 1330,779 1330,759 1334,763 1338,787 1342,803 1342,747 1346,803 1346,787 1350,851 1354,843 1354,775 1354,779 1358,799 1358,815 1358,807 1366,791 1370,855 1374,799 1374,791 1374,803 1386,759 1386,811 1394,827 1398,807 1402,787 1402,795 1406,795 1410,839 1414,819 1418,811 1426,843 1430,807 1430,859 1434,827 1442,847 1442,839 1446,791 1446,787 1454,811 1458,787 1462,759 1466,823 1470,807 1474,799 1478,835 1486,815 1486,779 1490,855 1494,803 1494,803 1494,775 1498,827 1506,779 1510,823 1510,851 1518,807 1522,779 1526,819 1554,791 1554,775 1562,807 1562,807 1574,815 1578,803 1582,795 1590,779 1598,827 1618,815 1618,839 1618,799 1622,807 1626,847 1626,815 1630,819 1634,831 214,819 218,787 218,771 230,663 238,631 238,623 242,615 242,603 246,599 246,595 254,583" marker-start="url(#s2_1212)" marker-mid="url(#s2_1212)" marker-end="url(#s2_1212)"/>
<polyline points="218,771 230,643 242,603 250,579 254,571 254,571 258,559 274,539 298,519 306,515 310,515 314,515 318,515 318,515 322,519 326,515 326,515 342,519 350,519 350,519 362,523 366,527 370,523 378,527 378,527 394,531 402,531 402,535 418,539 426,539 434,543 438,543 442,547 446,543 446,543 466,551 478,555 478,555 486,559 494,563 498,563 510,567 510,567 522,571 534,575 538,575 562,583 562,583 570,587 578,591 590,591 610,599 618,611 630,611 634,607 634,607 638,607 650,615 658,627 662,615 674,619 674,619 702,631 710,639 710,631 734,643 746,639 750,651 754,651 766,655 770,663 790,659 810,679 814,671 830,671 846,691 850,679 850,687 858,683 858,675 882,687 890,695 894,691 910,699 914,699 914,715 918,719 930,707 934,719 942,727 946,711 946,707 950,703 950,727 962,735 974,727 978,739 978,735 986,735 990,731 1002,739 1006,759 1022,747 1038,747 1046,791 1058,751 1058,755 1062,731 1066,751 1070,795 1074,783 1078,763 1086,763 1102,775 1122,759 1122,815 1134,799 1150,779 1182,763 1182,799 1198,819 1202,855 1202,783 1206,803 1218,767 1218,755 1226,827 1230,815 1262,787 1270,831 1278,795 1282,815 1290,795 1302,811 1314,791 1342,831 1350,767 1362,803 1362,847 1378,795 1382,799 1382,795 1390,779 1394,787 1406,855 1410,855 1418,779 1418,787 1422,855 1430,839 1434,839 1450,819 1462,807 1478,803 1478,803 1486,783 1490,779 1502,827 1510,807 1514,771 1526,795 1550,839 1558,847 1566,811 1566,783 1570,839 1570,827 1606,843 214,803 234,631 238,615 238,607" marker-start="url(#s2_1616)" marker-mid="url(#s2_1616)" marker-end="url(#s2_1616)"/>
<line x1="310" y1="506.3" x2="1397.4" y2="857" stroke="#000" stroke-width="11" stroke-dasharray="25 18.5"/>
</g>
<marker id="s3_1212" markerUnits="userSpaceOnUse" markerWidth="12" markerHeight="12" refX="0" refY="0" overflow="visible"><path d="M2 2h8v8h-8z" fill="none" stroke="#00ffff" stroke-width="4" shape-rendering="crispEdges"/></marker>
<marker id="s3_1216" markerUnits="userSpaceOnUse" markerWidth="12" markerHeight="16" refX="0" refY="0" overflow="visible"><path d="M2 2h8v12h-8z" fill="none" stroke="#00ffff" stroke-width="4" shape-rendering="crispEdges"/></marker>
<marker id="s3_1612" markerUnits="userSpaceOnUse" markerWidth="16" markerHeight="12" refX="0" refY="0" overflow="visible"><path d="M2 2h12v8h-12z" fill="none" stroke="#00ffff" stroke-width="4" shape-rendering="crispEdges"/></marker>
<marker id="s3_1616" markerUnits="userSpaceOnUse" markerWidth="16" markerHeight="16" refX="0" refY="0" overflow="visible"><path d="M2 2h12v12h-12z" fill="none" stroke="#00ffff" stroke-width="4" shape-rendering="crispEdges"/></marker>
<marker id="d3" markerUnits="userSpaceOnUse" markerWidth="20" markerHeight="20" refX="10" refY="10" overflow="visible"><path d="M10 2.5l7.5 7.5l-7.5 7.5l-7.5-7.5z" fill="none" stroke="#00ffff" stroke-width="3"/></marker>
<clipPath id="c3"><rect x="218" y="915" width="1422" height="376"/></clipPath>
<g clip-path="url(#c3)" fill="none" stroke="none">
<polyline points="214,1255 218,1243 226,1131 230,1119 230,1115 250,1007 258,987 262,979 266,967 278,955 278,955 286,951 286,951 290,951 294,951 302,951 314,951 314,951 322,955 326,955 330,955 330,955 334,955 338,955 346,959 346,955 350,959 350,959 354,959 358,959 362,959 366,963 366,963 374,967 386,971 386,967 386,967 394,971 398,971 398,971 398,971 410,975 410,975 418,979 418,979 430,983 430,983 434,983 438,983 442,983 442,987 446,987 446,987 454,991 454,991 458,991 466,995 470,995 470,995 474,999 474,995 482,999 486,999 490,999 498,1003 502,1007 506,1007 506,1007 506,1007 506,1011 522,1011 522,1011 526,1015 534,1011 542,1019 550,1019 554,1023 558,1023 558,1023 558,1023 562,1023 570,1027 570,1027 574,1027 574,1027 574,1027 578,1031 582,1031 586,1031 590,1031 594,1031 594,1035 602,1035 602,1035 602,1039 614,1039 614,1039 618,1043 622,1043 622,1043 626,1043 630,1047 634,1047 638,1047 646,1055 650,1055 654,1055 658,1059 658,1055 662,1055 666,1055 670,1059 674,1059 678,1063 686,1063 694,1067 698,1071 698,1071 702,1071 702,1071 702,1071 706,1075 714,1075 714,1075 718,1075 722,1079 726,1079 734,1083 738,1083 742,1083 742,1083 746,1083 750,1087 754,1087 758,1091 762,1087 766,1091 766,1095 770,1095 778,1099 778,1095 778,1099 782,1099 782,1099 782,1099 786,1099 786,1103 790,1103 790,1103 794,1103 798,1107 802,1107 802,1107 814,1111 814,1111 818,1111 822,1111 826,1115 830,1115 834,1115 838,1123 838,1119 850,1119 854,1131 858,1127 866,1131 870,1131 878,1131 882,1131 890,1135 890,1135 890,1131 890,1139 894,1143 898,1139 902,1139 906,1139 910,1143 910,1143 914,1147 922,1143 930,1151 934,1151 934,1151 934,1151 938,1155 942,1151 942,1151 946,1159 946,1155 950,1155 954,1159 954,1155 958,1163 958,1155 962,1159 970,1163 974,1167 978,1171 978,1167 982,1171 982,1167 990,1175 998,1175 998,1179 998,1171 1006,1183 1006,1171 1014,1179 1014,1179 1014,1183 1018,1187 1018,1179 1022,1179 1022,1187 1026,1183 1026,1183 1030,1187 1034,1183 1038,1187 1050,1195 1050,1191 1054,1199 1054,1195 1054,1191 1058,1199 1062,1199 1066,1199 1066,1199 1066,1199 1074,1203 1078,1203 1078,1199 1078,1203 1082,1207 1086,1203 1102,1207 1102,1219 1106,1211 1106,1215 1110,1215 1118,1215 1118,1211 1118,1211 1118,1215 1122,1211 1126,1215 1130,1227 1134,1223 1142,1219 1142,1215 1146,1219 1150,1215 1158,1223 1158,1231 1170,1223 1170,1231 1174,1231 1174,1235 1174,1239 1182,1227 1190,1231 1198,1247 1198,1243 1202,1247 1202,1239 1206,1235 1206,1231 1214,1235 1218,1247 1218,1251 1222,1243 1222,1239 1226,1239 1230,1259 1230,1235 1234,1231 1238,1251 1238,1263 1242,1259 1246,1247 1246,1247 1250,1247 1258,1243 1270,1279 1270,1251 1270,1271 1278,1271 1278,1275 1282,1271 1286,1247 1290,1255 1294,1267 1298,1267 1302,1267 1302,1259 1306,1251 1310,1259 1310,1255 1318,1263 1318,1279 1318,1263 1322,1271 1326,1259 1330,1279 1334,1287 1334,1263 1338,1267 1338,1287 1342,1275 1342,1271 1342,1271 1350,1291 1354,1295 1358,1295 1362,1287 1362,1291 1370,1283 1378,1279 1394,1283 1406,1287 1410,1283 1410,1291 1418,1287 1422,1291 1434,1283 1434,1279 1446,1283 1446,1291 1446,1295 1450,1295 1454,1287 1478,1291 1478,1295 1490,1287 1506,1291 1510,1291 1542,1295 1546,1295 1574,1295 1578,1295 1578,1291 1582,1291 1610,1291 222,1195 222,1151 230,1111 230,1103 234,1067 246,1019" marker-start="url(#s3_1212)" marker-mid="url(#s3_1212)" marker-end="url(#s3_1212)"/>
<polyline points="214,1267 218,1215 222,1171 222,1163 222,1151 226,1135 226,1123 230,1103 234,1075 246,1019 246,1019 254,999 262,971 266,967 270,959 270,955 274,955 274,955 278,951 282,951 282,951 290,947 294,951 302,947 306,951 314,951 318,951 318,955 318,951 330,955 334,955 338,955 342,955 370,963 374,963 378,963 378,967 378,963 382,963 382,967 390,967 398,971 402,971 402,971 414,975 422,975 426,979 430,979 434,979 434,979 434,983 438,979 438,983 442,983 462,991 462,991 474,995 482,995 486,999 490,999 498,999 506,1003 518,1007 518,1007 522,1011 534,1015 538,1015 538,1015 546,1015 554,1019 562,1023 566,1023 574,1027 578,1027 590,1031 590,1031 598,1035 610,1035 622,1043 634,1043 642,1047 646,1047 646,1051 650,1051 650,1051 654,1051 658,1055 662,1055 690,1063 690,1067 706,1071 710,1071 710,1071 714,1075 714,1075 722,1075 730,1079 730,1079 738,1083 742,1083 750,1083 754,1087 758,1087 758,1091 766,1095 778,1095 786,1095 786,1099 790,1099 806,1099 810,1107 822,1111 826,1111 834,1111 842,1115 846,1119 858,1127 866,1123 874,1131 874,1127 874,1127 878,1131 882,1135 886,1131 894,1135 902,1139 906,1139 918,1143 926,1147 942,1155 946,1155 958,1155 962,1159 962,1159 966,1163 966,1163 974,1163 986,1167 986,1167 994,1171 994,1179 1002,1171 1014,1179 1022,1179 1030,1183 1030,1183 1034,1187 1038,1191 1038,1191 1042,1187 1050,1187 1058,1195 1070,1203 1074,1195 1082,1203 1086,1203 1090,1199 1090,1211 1094,1203 1098,1207 1102,1207 1106,1203 1106,1219 1106,1207 1110,1211 1114,1215 1134,1223 1134,1219 1142,1219 1150,1219 1154,1227 1162,1227 1162,1219 1162,1223 1166,1231 1170,1227 1178,1231 1182,1235 1186,1235 1186,1231 1206,1243 1210,1235 1214,1231 1218,1251 1234,1239 1234,1247 1238,1247 1250,1259 1250,1255 1254,1263 1254,1259 1258,1239 1258,1267 1266,1259 1274,1263 1290,1259 1294,1279 1302,1251 1306,1271 1306,1259 1306,1291 1314,1287 1322,1283 1346,1267 1346,1271 1346,1279 1358,1295 1362,1275 1382,1291 1386,1275 1386,1279 1390,1271 1410,1291 1426,1295 1438,1287 1438,1291 1438,1287 1482,1295 1498,1291 1510,1295 1546,1291 222,1155 226,1119 230,1095 234,1071 242,1027 246,1015 250,1003 250,1003 254,999" marker-start="url(#s3_1216)" marker-mid="url(#s3_1216)" marker-end="url(#s3_1216)"/>
<polyline points="214,1255 218,1187 222,1147 230,1099 234,1071 234,1067 234,1063 238,1039 262,975 266,967 266,963 274,955 282,951 282,951 286,951 298,951 302,951 306,951 310,955 322,955 322,955 330,959 334,959 338,955 338,955 346,959 350,959 350,959 354,959 358,959 366,963 378,967 378,967 386,967 398,971 414,975 414,979 414,979 418,979 442,987 446,987 454,991 458,995 462,995 462,995 462,995 466,995 470,995 478,999 478,999 490,1003 494,1003 498,1003 502,1007 502,1003 534,1015 534,1019 542,1019 550,1019 554,1023 558,1019 562,1027 566,1027 578,1031 578,1031 582,1027 582,1031 594,1035 602,1039 606,1039 606,1039 606,1039 618,1043 622,1043 622,1043 622,1043 634,1047 638,1051 638,1051 638,1051 642,1051 666,1059 670,1059 674,1063 678,1063 682,1067 686,1067 694,1067 702,1071 702,1071 706,1075 718,1079 722,1079 730,1083 738,1079 746,1083 750,1091 758,1095 758,1095 762,1091 766,1095 770,1095 770,1099 774,1099 786,1103 794,1099 794,1107 794,1107 798,1103 806,1107 806,1107 810,1107 810,1111 814,1111 814,1111 818,1111 822,1111 822,1111 822,1115 826,1115 826,1111 846,1123 846,1123 854,1131 854,1123 858,1123 862,1127 870,1131 874,1131 878,1131 882,1135 882,1135 886,1131 898,1143 898,1135 902,1139 902,1143 906,1143 906,1143 914,1143 914,1147 922,1147 922,1143 930,1151 934,1147 942,1151 950,1159 954,1159 966,1163 966,1159 970,1159 970,1167 978,1171 978,1167 986,1171 994,1175 998,1171 1014,1183 1022,1187 1038,1191 1042,1191 1046,1191 1050,1191 1050,1191 1066,1203 1066,1195 1078,1199 1082,1211 1086,1207 1086,1195 1090,1203 1102,1215 1110,1211 1114,1211 1122,1215 1122,1211 1126,1227 1130,1223 1146,1223 1158,1211 1174,1235 1178,1235 1178,1231 1178,1231 1182,1227 1186,1239 1190,1235 1190,1231 1206,1255 1210,1251 1214,1247 1214,1255 1242,1259 1242,1255 1250,1247 1250,1255 1258,1239 1262,1255 1266,1263 1274,1267 1286,1247 1298,1283 1318,1271 1318,1275 1326,1263 1330,1275 1330,1271 1338,1271 1342,1263 1362,1291 1370,1279 1374,1275 1378,1271 1398,1283 1410,1287 1414,1291 1414,1275 1418,1287 1458,1291 1470,1291 1494,1295 1514,1295 1538,1295 1610,1295 214,1275 218,1179 222,1139 246,1015" marker-start="url(#s3_1612)" marker-mid="url(#s3_1612)" marker-end="url(#s3_1612)"/>
<polyline points="218,1187 234,1055 238,1047 242,1031 242,1023 254,987 254,983 258,979 262,971 290,951 294,947 306,951 310,951 354,959 358,959 358,959 370,963 370,963 398,971 406,971 410,975 410,975 410,975 422,975 422,979 426,975 446,987 450,987 450,987 454,991 462,991 466,995 466,991 482,999 482,999 490,1003 490,999 498,1003 506,1007 518,1007 522,1011 522,1011 542,1019 554,1019 558,1023 566,1027 570,1027 574,1027 578,1027 586,1031 590,1031 598,1035 598,1035 614,1039 630,1043 634,1047 646,1051 658,1055 662,1055 666,1055 666,1059 670,1055 670,1059 674,1059 674,1059 682,1063 686,1063 718,1075 726,1075 730,1079 742,1083 742,1087 742,1087 758,1087 774,1095 794,1103 798,1107 802,1107 814,1111 834,1115 838,1115 846,1123 850,1119 862,1123 866,1127 878,1131 882,1131 894,1135 918,1147 926,1147 926,1147 926,1147 934,1151 934,1155 938,1151 942,1151 950,1159 958,1159 974,1163 986,1167 994,1167 1002,1179 1006,1171 1006,1175 1010,1179 1018,1183 1046,1187 1054,1187 1070,1191 1074,1207 1094,1199 1094,1207 1110,1207 1118,1207 1126,1211 1134,1215 1146,1227 1146,1227 1158,1231 1190,1219 1190,1243 1198,1239 1206,1227 1210,1251 1218,1235 1222,1251 1226,1231 1226,1251 1230,1255 1234,1239 1250,1251 1266,1243 1266,1263 1270,1255 1274,1247 1278,1255 1282,1263 1282,1259 1286,1263 1290,1267 1306,1259 1314,1271 1314,1275 1318,1263 1322,1275 1326,1283 1334,1275 1342,1279 1350,1295 1350,1275 1354,1275 1354,1283 1362,1287 1370,1275 1370,1275 1378,1283 1382,1283 1394,1287 1398,1283 1398,1283 1406,1267 1414,1275 1422,1283 1426,1295 1438,1287 1470,1291 1474,1287 1518,1291 1526,1291 214,1271 218,1215 226,1115 230,1087 234,1063 238,1047 238,1043 242,1031" marker-start="url(#s3_1616)" marker-mid="url(#s3_1616)" marker-end="url(#s3_1616)"/>
<polyline points="240,1097 240,1089 244,1061 248,1049 248,1041 252,1037 256,1017 256,1017 256,1009 256,1009 260,1001 260,997 264,985 268,981 276,969 276,965 280,961 284,961 288,961 292,957 296,957 300,957 304,957 304,957 304,957 304,957 308,957 312,957 312,957 316,957 320,957 324,961 328,957 328,961 328,957 332,961 332,961 340,961 344,965 348,965 348,961 348,961 352,961 356,965 360,965 364,965 364,965 368,965 372,969 372,969 376,969 380,969 384,973 388,973 392,973 396,977 396,973 400,977 400,977 400,973 404,977 412,981 412,981 412,977 416,977 424,985 432,985 432,989 436,985 440,989 444,993 452,993 456,997 456,993 456,997 460,997 480,1001 484,1005 484,1005 484,1005 492,1005 492,1009 496,1009 500,1009 508,1009 516,1013 516,1013 516,1013 520,1017 520,1017 520,1017 520,1017 524,1017 524,1017 532,1021 532,1021 536,1021 536,1021 536,1021 536,1021 540,1021 544,1021 548,1021 548,1025 548,1025 552,1025 552,1025 556,1029 556,1025 568,1029 568,1029 572,1029 592,1037 592,1037 596,1041 600,1041 604,1041 608,1045 612,1041 616,1045 616,1045 620,1045 620,1045 620,1045 624,1049 632,1049 636,1053 636,1049 640,1053 644,1053 648,1057 652,1057 656,1061 660,1061 660,1061 668,1065 668,1061 676,1065 680,1069 688,1073 688,1073 688,1069 692,1073 696,1073 696,1073 700,1077 700,1073 704,1073 704,1077 708,1077 712,1077 716,1081 724,1081 724,1081 728,1085 732,1085 732,1085 736,1089 740,1089 740,1089 744,1089 748,1089 756,1097 756,1093 760,1097 768,1097 776,1097 776,1097 780,1101 780,1105 788,1105 800,1109 804,1113 808,1113 812,1113 816,1113 824,1121 836,1121 836,1121 840,1121 840,1121 844,1125 848,1125 848,1125 848,1121 852,1129 856,1129 860,1129 860,1133 860,1133 864,1133 868,1133 872,1133 872,1133 876,1137 876,1133 884,1133 896,1141 900,1137 900,1141 912,1149 912,1149 916,1149 920,1149 920,1153 924,1149 924,1153 928,1153 932,1153 936,1161 952,1161 956,1161 956,1161 968,1169 968,1169 976,1161 976,1173 980,1169 984,1177 988,1177 992,1173 992,1177 996,1185 1000,1185 1004,1181 1008,1181 1008,1181 1016,1181 1016,1185 1024,1189 1028,1185 1032,1185 1036,1193 1040,1193 1040,1197 1040,1189 1048,1193 1048,1197 1048,1197 1052,1193 1064,1193 1064,1197 1068,1205 1068,1201 1068,1205 1076,1209 1076,1201 1080,1209 1080,1201 1092,1209 1096,1205 1096,1209 1104,1209 1104,1213 1104,1213 1116,1217 1120,1221 1128,1229 1132,1229 1132,1221 1136,1225 1140,1221 1144,1229 1144,1225 1144,1229 1148,1241 1148,1225 1152,1233 1156,1229 1160,1229 1160,1221 1160,1253 1164,1233 1168,1241 1172,1229 1172,1221 1172,1245 1176,1229 1184,1237 1188,1249 1188,1245 1192,1245 1200,1245 1200,1241 1204,1245 1204,1257 1208,1245 1208,1245 1216,1241 1224,1253 1228,1253 1236,1265 1240,1249 1240,1253 1248,1257 1248,1261 1252,1269 1260,1269 1264,1265 1268,1249 1268,1253 1272,1265 1276,1277 1280,1257 1284,1277 1288,1257 1292,1273 1292,1265 1300,1261 1300,1249 1304,1281 1304,1289 1308,1277 1312,1269 1316,1289 1320,1269 1336,1277 1340,1285 1340,1277 1352,1273 1356,1293 1364,1289 1368,1285 1372,1273 1372,1293 1376,1297 1376,1297 1380,1289 1388,1285 1388,1269 1392,1281 1396,1293 1400,1293 1404,1289 1408,1289 1412,1293 1424,1289 1428,1293 1440,1285 1464,1293 1472,1297 1508,1289 1532,1301 1544,1289 1552,1301 1596,1301 220,1269 224,1261 224,1233 228,1173 232,1149 232,1133 240,1089 244,1065 244,1061 248,1049 248,1045 252,1033 252,1029 256,1017 260,1005" marker-start="url(#d3)" marker-mid="url(#d3)" marker-end="url(#d3)"/>
<line x1="310" y1="938.8" x2="1346.6" y2="1293" stroke="#000" stroke-width="11" stroke-dasharray="25 18.5"/>
</g>
<marker id="s4_1212" markerUnits="userSpaceOnUse" markerWidth="12" markerHeight="12" refX="0" refY="0" overflow="visible"><path d="M2 2h8v8h-8z" fill="none" stroke="#ff00ff" stroke-width="4" shape-rendering="crispEdges"/></marker>
<marker id="s4_1216" markerUnits="userSpaceOnUse" markerWidth="12" markerHeight="16" refX="0" refY="0" overflow="visible"><path d="M2 2h8v12h-8z" fill="none" stroke="#ff00ff" stroke-width="4" shape-rendering="crispEdges"/></marker>
<marker id="d4" markerUnits="userSpaceOnUse" markerWidth="20" markerHeight="20" refX="10" refY="10" overflow="visible"><path d="M10 2.5l7.5 7.5l-7.5 7.5l-7.5-7.5z" fill="none" stroke="#ff00ff" stroke-width="3"/></marker>
<marker id="s4_1612" markerUnits="userSpaceOnUse" markerWidth="16" markerHeight="12" refX="0" refY="0" overflow="visible"><path d="M2 2h12v8h-12z" fill="none" stroke="#ff00ff" stroke-width="4" shape-rendering="crispEdges"/></marker>
<marker id="s4_1616" markerUnits="userSpaceOnUse" markerWidth="16" markerHeight="16" refX="0" refY="0" overflow="visible"><path d="M2 2h12v12h-12z" fill="none" stroke="#ff00ff" stroke-width="4" shape-rendering="crispEdges"/></marker>
<clipPath id="c4"><rect x="218" y="1347" width="1422" height="376"/></clipPath>
<g clip-path="url(#c4)" fill="none" stroke="none">
<polyline points="214,1719 214,1715 214,1719 222,1587 226,1575 226,1567 226,1551 230,1523 234,1515 234,1507 238,1491 238,1479 238,1475 242,1459 246,1447 250,1435 254,1419 258,1411 262,1407 262,1403 266,1399 270,1395 274,1391 274,1391 278,1391 282,1387 302,1383 302,1387 302,1387 306,1387 314,1387 318,1387 322,1387 322,1387 322,1391 322,1387 326,1387 326,1391 330,1391 334,1391 334,1391 338,1391 338,1391 338,1391 342,1391 342,1391 342,1391 342,1391 346,1395 354,1395 358,1395 362,1395 366,1395 366,1395 370,1395 378,1399 378,1399 390,1399 390,1403 394,1403 394,1403 394,1407 398,1403 406,1407 410,1407 414,1411 414,1411 418,1411 426,1415 430,1415 434,1415 434,1419 434,1419 438,1419 438,1419 442,1415 442,1419 446,1419 450,1423 454,1423 454,1423 462,1427 470,1427 474,1431 482,1435 486,1435 490,1439 490,1439 494,1439 494,1439 498,1439 502,1439 502,1439 506,1443 506,1443 510,1443 514,1443 514,1443 514,1447 522,1447 522,1447 522,1447 526,1447 530,1451 538,1455 542,1455 542,1455 542,1455 546,1455 550,1455 554,1455 554,1459 558,1459 566,1463 570,1463 574,1463 574,1463 574,1463 578,1467 578,1467 586,1467 586,1467 594,1471 598,1475 598,1471 602,1475 606,1475 606,1475 610,1479 618,1479 626,1487 626,1483 630,1483 638,1487 638,1487 638,1483 642,1487 646,1487 650,1491 650,1491 654,1495 658,1495 666,1499 670,1499 670,1499 678,1503 686,1503 686,1503 694,1507 698,1507 702,1511 702,1511 702,1511 706,1515 710,1511 710,1511 726,1519 738,1523 738,1523 742,1527 742,1527 746,1523 746,1527 758,1527 758,1531 758,1531 762,1527 762,1535 766,1531 770,1535 774,1539 774,1535 782,1543 790,1539 794,1539 794,1543 794,1543 794,1543 806,1543 814,1543 814,1555 818,1551 830,1559 834,1551 838,1563 838,1559 842,1555 846,1559 850,1555 850,1559 850,1563 854,1563 854,1563 862,1567 870,1567 874,1571 878,1571 882,1571 882,1571 890,1575 902,1579 902,1579 902,1583 906,1579 906,1583 906,1583 914,1583 918,1583 922,1591 922,1587 926,1587 926,1591 930,1587 930,1591 938,1587 942,1591 942,1591 954,1603 954,1603 962,1599 962,1599 962,1603 966,1595 966,1599 970,1599 974,1603 978,1607 986,1611 986,1603 986,1615 986,1611 990,1607 990,1603 1002,1611 1002,1615 1006,1611 1006,1611 1010,1615 1014,1623 1022,1623 1030,1615 1030,1619 1042,1619 1050,1627 1054,1627 1054,1631 1058,1627 1062,1635 1066,1639 1066,1635 1070,1643 1070,1631 1070,1639 1074,1635 1078,1639 1078,1639 1078,1643 1082,1643 1090,1651 1102,1647 1110,1647 1118,1655 1118,1659 1126,1655 1130,1663 1134,1659 1134,1675 1134,1663 1138,1663 1138,1659 1142,1675 1146,1659 1150,1671 1162,1667 1166,1671 1174,1691 1178,1675 1182,1679 1182,1675 1186,1675 1186,1699 1190,1671 1198,1671 1202,1695 1210,1687 1214,1691 1226,1695 1234,1675 1234,1687 1234,1691 1246,1691 1254,1691 1258,1695 1266,1699 1266,1699 1270,1695 1274,1699 1278,1707 1278,1699 1282,1719 1290,1691 1290,1699 1294,1723 1294,1715 1298,1711 1302,1695 1302,1719 1306,1707 1310,1695 1314,1711 1318,1707 1322,1707 1322,1727 1322,1715 1326,1723 1330,1711 1330,1715 1338,1711 1342,1711 1346,1711 1358,1707 1366,1711 1370,1707 1374,1723 1374,1723 1378,1715 1378,1727 1378,1715 1394,1723 1414,1723 1446,1727 1454,1727 1458,1723 218,1679 222,1603 222,1587 234,1507 242,1463 242,1459 246,1443 250,1431" marker-start="url(#s4_1212)" marker-mid="url(#s4_1212)" marker-end="url(#s4_1212)"/>
<polyline points="218,1703 230,1535 230,1531 234,1499 246,1451 246,1451 250,1439 254,1419 254,1415 258,1411 262,1399 266,1391 282,1383 306,1383 310,1387 338,1387 342,1387 346,1387 350,1391 354,1391 358,1391 358,1391 358,1391 378,1399 398,1403 402,1407 402,1403 426,1411 426,1411 430,1415 442,1419 446,1419 458,1423 462,1423 462,1423 466,1423 466,1427 466,1427 470,1427 470,1427 474,1427 474,1427 478,1427 478,1431 482,1431 486,1431 490,1435 498,1435 502,1435 510,1443 518,1443 522,1447 526,1447 526,1447 530,1447 534,1447 538,1451 542,1451 546,1455 546,1451 550,1455 550,1455 554,1455 558,1455 566,1459 570,1463 578,1463 590,1467 602,1471 610,1475 610,1479 614,1475 614,1475 618,1479 622,1479 634,1483 634,1483 638,1487 646,1487 654,1491 658,1491 658,1491 666,1495 670,1495 674,1499 678,1499 682,1499 682,1499 690,1503 706,1511 714,1515 722,1515 726,1515 730,1515 730,1519 734,1519 734,1519 734,1519 742,1519 750,1523 754,1527 762,1531 766,1527 766,1531 778,1535 802,1543 806,1547 818,1547 818,1547 826,1551 826,1551 830,1551 830,1555 834,1555 842,1559 842,1559 846,1559 846,1559 850,1559 854,1559 858,1563 862,1567 862,1567 874,1567 878,1567 882,1575 886,1575 886,1571 890,1575 890,1575 894,1571 906,1579 926,1587 930,1587 938,1591 938,1591 942,1591 946,1595 958,1599 958,1595 962,1599 966,1599 974,1603 978,1607 978,1603 982,1603 982,1603 990,1607 994,1615 994,1607 998,1607 1002,1611 1002,1611 1010,1611 1014,1623 1018,1611 1022,1615 1022,1619 1030,1619 1034,1623 1046,1627 1046,1623 1050,1627 1058,1627 1062,1623 1066,1631 1078,1643 1086,1639 1086,1647 1098,1639 1102,1643 1106,1651 1106,1643 1106,1659 1110,1643 1118,1659 1118,1655 1122,1651 1138,1655 1150,1655 1154,1675 1158,1655 1162,1655 1162,1663 1166,1667 1174,1671 1190,1675 1198,1679 1222,1679 1230,1699 1250,1695 1254,1715 1262,1687 1262,1691 1270,1695 1274,1723 1278,1695 1282,1703 1286,1707 1286,1711 1306,1703 1306,1715 1310,1703 1322,1715 1342,1707 1346,1707 1350,1703 1354,1727 1354,1719 1362,1727 1382,1723 1406,1727 1414,1727 1426,1719 1438,1719 1510,1723 214,1715 218,1647 222,1627 230,1539 230,1531 230,1519 238,1491 246,1451 254,1423" marker-start="url(#s4_1216)" marker-mid="url(#s4_1216)" marker-end="url(#s4_1216)"/>
<polyline points="224,1681 232,1565 240,1497 248,1477 248,1469 268,1413 280,1397 284,1393 288,1397 292,1389 292,1389 292,1389 296,1389 296,1393 300,1389 308,1393 312,1393 316,1393 320,1393 336,1397 336,1397 352,1397 352,1397 356,1397 356,1397 368,1401 380,1405 380,1405 384,1405 388,1409 388,1405 392,1409 392,1409 396,1409 396,1409 400,1409 404,1413 412,1417 416,1413 428,1421 428,1421 432,1421 436,1421 440,1421 444,1421 448,1425 456,1429 476,1437 484,1437 484,1437 488,1437 492,1441 492,1437 492,1441 496,1441 500,1441 508,1449 512,1445 516,1445 516,1449 524,1453 528,1453 532,1453 540,1457 544,1461 544,1457 560,1465 564,1465 568,1465 568,1469 572,1465 572,1469 576,1473 580,1473 584,1469 588,1473 588,1469 588,1477 596,1477 596,1477 596,1477 608,1485 620,1485 620,1485 624,1485 632,1489 632,1489 636,1489 636,1489 648,1493 648,1493 652,1493 656,1497 656,1497 660,1497 668,1501 668,1501 672,1501 676,1501 676,1505 680,1509 680,1505 684,1505 684,1509 688,1509 692,1513 692,1509 696,1513 700,1513 700,1513 700,1513 708,1521 712,1521 716,1517 720,1521 724,1521 724,1521 728,1525 728,1521 732,1525 736,1525 736,1529 748,1529 756,1537 760,1533 760,1533 768,1537 772,1537 776,1545 776,1541 780,1537 780,1541 784,1541 788,1541 788,1545 792,1549 792,1549 796,1545 804,1549 804,1549 804,1545 808,1553 808,1553 812,1557 812,1549 816,1553 816,1557 820,1553 828,1557 828,1561 832,1557 832,1561 836,1561 844,1565 848,1565 860,1569 860,1569 864,1569 868,1573 872,1573 876,1573 876,1577 876,1573 880,1577 888,1581 892,1585 892,1585 900,1581 904,1585 904,1581 904,1581 904,1585 916,1593 916,1589 916,1589 920,1589 928,1589 932,1597 940,1597 944,1601 948,1601 956,1605 956,1601 960,1605 960,1601 976,1609 976,1605 980,1613 984,1609 988,1613 1000,1617 1000,1617 1004,1621 1004,1617 1012,1617 1016,1621 1016,1613 1024,1625 1024,1621 1032,1625 1040,1629 1040,1629 1040,1629 1044,1629 1044,1637 1048,1625 1048,1633 1056,1633 1060,1641 1064,1633 1076,1653 1088,1645 1092,1645 1092,1649 1096,1653 1096,1649 1096,1653 1100,1645 1100,1653 1116,1657 1116,1657 1120,1657 1128,1661 1132,1673 1132,1661 1136,1673 1148,1669 1148,1673 1152,1669 1152,1685 1160,1673 1164,1677 1168,1681 1172,1669 1176,1685 1176,1685 1180,1677 1188,1677 1192,1681 1196,1677 1200,1677 1204,1693 1204,1693 1208,1689 1208,1697 1208,1701 1212,1693 1216,1689 1216,1713 1220,1693 1224,1701 1228,1705 1228,1709 1232,1709 1244,1717 1244,1697 1244,1713 1248,1701 1248,1705 1248,1701 1252,1717 1252,1693 1256,1705 1256,1701 1260,1689 1260,1709 1260,1693 1272,1701 1276,1717 1276,1709 1280,1717 1284,1725 1288,1717 1296,1729 1304,1713 1308,1697 1308,1717 1312,1713 1316,1725 1320,1709 1320,1713 1324,1729 1324,1733 1332,1713 1332,1721 1340,1725 1340,1717 1344,1717 1352,1721 1356,1713 1360,1729 1364,1705 1368,1733 1368,1713 1376,1729 1384,1721 1392,1725 1392,1733 1396,1721 1404,1729 1416,1729 1416,1733 1424,1725 1428,1717 1432,1725 1440,1729 1496,1729 220,1733 224,1701 228,1621 228,1589 232,1577 232,1569 236,1533 240,1517 240,1509 244,1493 244,1481 248,1473 252,1453 256,1437 260,1433" marker-start="url(#d4)" marker-mid="url(#d4)" marker-end="url(#d4)"/>
<polyline points="218,1663 218,1635 218,1623 218,1607 222,1595 226,1547 234,1499 234,1483 242,1459 246,1439 250,1431 258,1411 262,1399 266,1395 274,1387 278,1387 290,1387 290,1383 294,1387 294,1383 298,1383 298,1383 306,1387 310,1387 314,1387 314,1387 318,1387 318,1387 322,1387 322,1391 326,1391 330,1391 350,1391 354,1391 354,1391 358,1395 362,1395 366,1399 370,1399 370,1399 370,1399 378,1399 382,1403 398,1407 402,1407 402,1407 406,1407 410,1407 414,1411 422,1415 438,1419 442,1419 446,1419 454,1423 458,1427 466,1431 474,1431 510,1443 518,1447 530,1451 534,1451 538,1455 542,1455 550,1455 558,1459 558,1459 558,1463 562,1459 566,1463 578,1463 578,1467 586,1471 594,1475 598,1471 602,1475 618,1483 622,1479 622,1483 630,1483 630,1483 634,1487 642,1487 650,1495 658,1495 662,1499 662,1499 678,1503 682,1503 694,1511 698,1511 698,1507 702,1511 714,1515 726,1515 738,1523 738,1523 742,1519 746,1527 746,1523 758,1531 774,1535 778,1535 778,1535 778,1543 786,1543 790,1543 794,1543 798,1543 810,1547 810,1551 814,1547 818,1551 830,1555 834,1559 854,1567 858,1571 866,1567 870,1567 874,1571 878,1567 886,1575 890,1579 894,1579 894,1579 910,1583 910,1587 914,1587 918,1587 918,1587 922,1591 922,1579 930,1591 930,1591 934,1591 946,1595 946,1599 950,1599 954,1603 958,1595 962,1599 966,1607 970,1607 974,1603 978,1599 982,1607 990,1607 994,1611 998,1615 1014,1623 1014,1619 1018,1619 1026,1623 1026,1619 1030,1623 1034,1623 1042,1623 1046,1631 1054,1631 1058,1627 1058,1631 1062,1631 1066,1635 1070,1631 1074,1643 1078,1651 1086,1639 1094,1643 1098,1655 1102,1655 1110,1655 1114,1647 1114,1655 1122,1659 1122,1667 1126,1647 1138,1659 1138,1663 1150,1663 1154,1675 1162,1675 1166,1679 1166,1675 1170,1679 1174,1671 1178,1683 1182,1663 1186,1679 1190,1683 1194,1667 1194,1683 1202,1679 1206,1675 1214,1679 1214,1695 1214,1695 1214,1683 1218,1687 1222,1695 1222,1687 1222,1683 1230,1691 1238,1703 1246,1683 1254,1707 1254,1699 1262,1723 1266,1719 1270,1711 1270,1715 1282,1707 1282,1711 1306,1703 1314,1723 1322,1711 1326,1727 1334,1711 1338,1699 1346,1723 1346,1707 1358,1719 1366,1723 1370,1715 1374,1707 1378,1727 1382,1719 1394,1719 1394,1727 1402,1715 1402,1719 1406,1715 1414,1723 1438,1723 1442,1727 226,1547 238,1483 238,1471 242,1455 246,1447 246,1435" marker-start="url(#s4_1612)" marker-mid="url(#s4_1612)" marker-end="url(#s4_1612)"/>
<polyline points="246,1447 250,1431 250,1423 258,1407 262,1399 266,1391 270,1391 270,1391 274,1387 278,1383 282,1383 286,1383 286,1383 290,1383 294,1383 302,1387 306,1383 310,1387 318,1387 334,1391 346,1391 358,1391 366,1395 366,1395 378,1399 382,1399 386,1399 394,1403 398,1407 402,1407 410,1407 410,1407 414,1407 414,1411 418,1411 422,1411 430,1415 430,1415 446,1419 450,1419 450,1423 450,1423 454,1423 458,1423 458,1423 462,1423 482,1431 494,1435 498,1435 498,1435 502,1439 502,1439 514,1443 526,1447 530,1447 582,1471 590,1467 590,1467 594,1471 598,1471 602,1475 606,1475 610,1475 614,1475 618,1483 626,1483 646,1487 650,1491 654,1491 670,1499 686,1503 690,1507 706,1511 710,1511 714,1511 714,1515 718,1511 718,1515 722,1515 730,1519 738,1523 746,1523 754,1527 758,1531 770,1535 782,1535 786,1539 802,1543 810,1543 822,1547 822,1551 830,1555 834,1555 842,1563 862,1563 862,1567 870,1575 902,1579 906,1583 910,1579 934,1587 942,1595 942,1595 946,1599 1006,1611 1010,1615 1014,1615 1022,1623 1030,1619 1034,1619 1042,1623 1046,1623 1054,1627 1062,1627 1074,1635 1078,1639 1090,1639 1094,1647 1094,1651 1098,1655 1102,1651 1102,1655 1122,1655 1126,1655 1130,1647 1134,1663 1142,1667 1142,1667 1146,1671 1150,1651 1154,1663 1158,1671 1170,1675 1178,1671 1178,1679 1178,1679 1190,1679 1206,1679 1206,1687 1218,1687 1226,1695 1230,1699 1230,1695 1234,1695 1242,1687 1250,1691 1258,1667 1262,1711 1286,1703 1290,1707 1294,1719 1294,1695 1298,1703 1306,1707 1310,1703 1330,1703 1330,1715 1338,1723 1342,1723 1350,1703 1354,1719 1362,1711 1390,1723 1402,1719 214,1691 226,1555 234,1491 246,1439" marker-start="url(#s4_1616)" marker-mid="url(#s4_1616)" marker-end="url(#s4_1616)"/>
<line x1="310" y1="1375.0" x2="1308.0" y2="1725" stroke="#000" stroke-width="11" stroke-dasharray="25 18.5"/>
</g>
<marker id="d5" markerUnits="userSpaceOnUse" markerWidth="20" markerHeight="20" refX="10" refY="10" overflow="visible"><path d="M10 2.5l7.5 7.5l-7.5 7.5l-7.5-7.5z" fill="none" stroke="#ff8000" stroke-width="3"/></marker>
<marker id="s5_1616" markerUnits="userSpaceOnUse" markerWidth="16" markerHeight="16" refX="0" refY="0" overflow="visible"><path d="M2 2h12v12h-12z" fill="none" stroke="#ff8000" stroke-width="4" shape-rendering="crispEdges"/></marker>
<marker id="s5_1612" markerUnits="userSpaceOnUse" markerWidth="16" markerHeight="12" refX="0" refY="0" overflow="visible"><path d="M2 2h12v8h-12z" fill="none" stroke="#ff8000" stroke-width="4" shape-rendering="crispEdges"/></marker>
<marker id="s5_1212" markerUnits="userSpaceOnUse" markerWidth="12" markerHeight="12" refX="0" refY="0" overflow="visible"><path d="M2 2h8v8h-8z" fill="none" stroke="#ff8000" stroke-width="4" shape-rendering="crispEdges"/></marker>
<marker id="s5_1216" markerUnits="userSpaceOnUse" markerWidth="12" markerHeight="16" refX="0" refY="0" overflow="visible"><path d="M2 2h8v12h-8z" fill="none" stroke="#ff8000" stroke-width="4" shape-rendering="crispEdges"/></marker>
<clipPath id="c5"><rect x="218" y="1783" width="1422" height="376"/></clipPath>
<g clip-path="url(#c5)" fill="none" stroke="none">
<polyline points="220,2157 228,1997 236,1949 240,1933 252,1873 256,1861 260,1857 260,1849 264,1841 268,1833 268,1837 272,1833 276,1833 280,1829 284,1825 292,1825 292,1825 292,1829 300,1825 300,1829 300,1825 304,1829 304,1829 308,1829 324,1833 324,1833 332,1833 332,1833 336,1833 336,1833 340,1833 340,1833 340,1833 344,1833 348,1837 360,1841 364,1841 364,1837 364,1841 364,1841 368,1841 376,1841 384,1845 388,1845 388,1845 404,1849 404,1849 416,1853 420,1857 424,1857 424,1857 428,1857 440,1861 444,1861 444,1861 448,1865 448,1865 452,1865 460,1869 464,1869 464,1869 472,1873 480,1877 480,1877 484,1877 488,1877 488,1881 492,1881 496,1881 496,1881 500,1885 516,1889 516,1889 520,1889 520,1889 524,1889 524,1893 528,1893 532,1897 536,1897 540,1901 540,1897 556,1905 556,1905 560,1905 560,1909 564,1905 568,1909 568,1905 576,1913 580,1913 580,1917 584,1913 584,1913 588,1917 592,1917 596,1917 596,1921 616,1929 616,1925 616,1929 620,1929 624,1929 624,1933 628,1929 640,1937 648,1937 652,1941 652,1941 656,1941 660,1945 660,1945 660,1945 664,1949 664,1945 668,1945 672,1949 688,1957 688,1957 700,1957 700,1961 700,1961 704,1961 708,1961 708,1961 708,1961 712,1961 716,1961 716,1961 716,1965 724,1969 728,1969 732,1969 732,1969 736,1973 736,1973 760,1981 764,1981 764,1985 768,1981 772,1985 772,1989 780,1989 784,1993 792,1993 792,1993 796,1993 796,1993 800,1993 804,2001 804,2001 808,2001 824,2009 824,2005 828,2013 832,2009 832,2009 840,2009 840,2013 840,2013 848,2017 852,2017 864,2017 876,2025 880,2025 880,2029 880,2025 884,2029 888,2029 888,2029 892,2029 896,2033 896,2029 896,2037 900,2037 904,2037 904,2037 908,2041 908,2037 912,2041 912,2037 920,2041 920,2045 932,2049 932,2053 936,2049 940,2053 948,2053 956,2053 956,2053 960,2057 968,2053 972,2061 980,2065 984,2065 988,2065 992,2069 992,2073 996,2065 1000,2065 1004,2073 1008,2073 1012,2073 1012,2069 1020,2077 1028,2077 1028,2077 1028,2073 1036,2073 1036,2077 1036,2081 1040,2077 1040,2073 1052,2081 1052,2089 1052,2085 1056,2081 1056,2085 1060,2089 1064,2089 1064,2081 1064,2093 1068,2093 1076,2097 1080,2097 1096,2109 1100,2105 1104,2105 1108,2109 1112,2105 1112,2109 1112,2113 1116,2117 1116,2109 1120,2105 1120,2113 1120,2105 1124,2117 1128,2105 1128,2113 1136,2121 1148,2121 1152,2121 1156,2117 1160,2125 1164,2125 1164,2121 1168,2125 1176,2125 1180,2129 1188,2137 1188,2141 1196,2129 1196,2133 1200,2137 1204,2137 1204,2137 1208,2137 1212,2137 1216,2141 1224,2133 1228,2141 1232,2153 1232,2145 1232,2165 1236,2165 1240,2141 1252,2161 1252,2145 1260,2145 1260,2165 1264,2141 1268,2145 1272,2153 1280,2149 1292,2149 1296,2165 1296,2157 1300,2165 1304,2157 1304,2165 1308,2149 1308,2161 1312,2157 1312,2165 1312,2161 1320,2161 1324,2153 1324,2153 1328,2165 1328,2165 1332,2165 1340,2165 1348,2169 1360,2169 1368,2165 1376,2169 224,2157 228,2009 232,1981 240,1933 244,1909 248,1897 248,1889 252,1881 252,1873" marker-start="url(#d5)" marker-mid="url(#d5)" marker-end="url(#d5)"/>
<polyline points="214,2143 226,1955 230,1931 238,1887 242,1875 246,1867 250,1851 250,1843 278,1819 286,1815 286,1815 286,1819 290,1819 294,1819 302,1819 310,1823 310,1823 318,1823 326,1827 334,1827 358,1831 366,1835 378,1839 382,1839 382,1839 394,1843 398,1843 414,1847 426,1851 442,1859 446,1855 446,1859 450,1859 450,1859 462,1863 462,1863 478,1867 482,1871 486,1871 494,1875 498,1875 498,1879 522,1887 530,1887 534,1891 542,1895 550,1899 558,1899 562,1903 562,1903 566,1903 578,1907 578,1911 586,1911 590,1911 590,1911 594,1915 602,1919 602,1919 602,1915 606,1919 614,1919 634,1931 662,1939 670,1943 686,1947 690,1951 698,1955 706,1955 714,1963 726,1963 738,1971 738,1967 742,1971 746,1967 746,1967 758,1975 766,1975 774,1983 778,1983 782,1987 794,1991 798,1991 798,1991 802,1991 802,1991 802,1995 810,1995 810,1991 810,1999 814,1995 814,1995 818,1999 818,1995 826,1999 830,1999 842,2007 858,2011 866,2019 870,2019 894,2023 926,2039 938,2043 938,2047 946,2047 958,2055 962,2051 966,2051 970,2055 978,2059 978,2055 978,2059 994,2055 1002,2063 1010,2067 1022,2067 1026,2067 1042,2075 1054,2083 1062,2083 1090,2083 1098,2099 1106,2099 1106,2103 1118,2111 1122,2107 1134,2111 1138,2119 1142,2111 1142,2107 1150,2115 1154,2111 1162,2131 1178,2127 1182,2123 1182,2131 1186,2127 1186,2131 1194,2139 1202,2123 1214,2131 1222,2143 1230,2135 1234,2143 1234,2131 1238,2135 1250,2147 1258,2139 1266,2139 1266,2143 1270,2155 1270,2155 1278,2147 1278,2143 1278,2147 1306,2143 1306,2159 1310,2151 1314,2151 1322,2159 1326,2155 1326,2151 1330,2155 1334,2155 1346,2151 1358,2163 214,2147 226,1967 234,1915" marker-start="url(#s5_1616)" marker-mid="url(#s5_1616)" marker-end="url(#s5_1616)"/>
<polyline points="214,2147 218,2091 218,2011 226,1971 226,1951 234,1907 238,1899 238,1895 242,1883 246,1859 254,1847 266,1823 274,1819 274,1819 278,1819 290,1819 298,1823 302,1819 302,1823 306,1823 306,1823 310,1823 310,1827 318,1827 334,1827 338,1831 338,1831 342,1831 346,1831 354,1835 358,1835 362,1835 366,1835 370,1835 370,1835 378,1835 386,1839 386,1843 390,1843 398,1847 398,1843 402,1843 414,1851 418,1851 422,1855 422,1851 422,1855 426,1851 426,1851 430,1851 434,1855 458,1867 458,1863 466,1867 478,1871 494,1879 498,1879 502,1883 506,1883 514,1887 522,1887 522,1887 534,1895 538,1895 538,1895 538,1895 546,1899 550,1899 554,1899 554,1903 558,1899 566,1903 574,1907 582,1911 594,1915 594,1915 598,1919 598,1915 598,1919 598,1919 602,1919 610,1923 614,1923 630,1931 634,1931 634,1931 638,1931 638,1935 642,1935 642,1931 646,1939 654,1939 662,1943 674,1947 678,1951 682,1951 694,1955 730,1967 734,1967 742,1971 742,1971 750,1975 750,1975 754,1975 758,1979 758,1979 770,1983 778,1983 778,1987 778,1987 790,1991 794,1991 802,1991 822,1999 826,2007 834,2007 846,2011 850,2011 850,2015 854,2015 854,2011 854,2019 858,2015 858,2015 862,2019 866,2015 866,2015 870,2023 878,2019 882,2023 886,2023 886,2027 886,2027 890,2031 894,2031 906,2035 910,2035 914,2039 914,2035 922,2035 922,2039 922,2039 926,2039 930,2039 942,2043 942,2047 950,2047 954,2047 958,2055 962,2055 970,2055 978,2059 982,2059 982,2063 990,2063 998,2059 1014,2067 1014,2071 1038,2087 1038,2075 1038,2075 1050,2075 1050,2083 1054,2079 1062,2083 1062,2091 1066,2083 1070,2087 1074,2087 1074,2087 1074,2091 1078,2095 1082,2091 1082,2087 1082,2087 1086,2087 1090,2091 1094,2095 1094,2103 1098,2099 1102,2091 1114,2107 1122,2103 1130,2107 1134,2115 1138,2111 1142,2099 1150,2115 1158,2123 1162,2119 1166,2119 1166,2115 1174,2123 1174,2127 1178,2119 1190,2127 1198,2131 1198,2127 1202,2139 1206,2123 1210,2139 1226,2139 1230,2139 1234,2147 1238,2139 1238,2135 1242,2151 1246,2131 1258,2139 1274,2151 1282,2147 1282,2147 1282,2159 1286,2151 1298,2151 1314,2155 1346,2163 1362,2163 1362,2159 214,2159 218,2023 218,2015 222,1995 222,1979 230,1931 234,1907 238,1899 242,1879 250,1855" marker-start="url(#s5_1612)" marker-mid="url(#s5_1612)" marker-end="url(#s5_1612)"/>
<polyline points="218,2147 218,2043 222,2011 226,1983 226,1963 234,1923 238,1911 238,1899 242,1883 250,1859 258,1839 266,1827 270,1827 270,1823 274,1823 282,1819 282,1819 290,1819 290,1823 302,1819 306,1823 306,1823 306,1823 314,1823 318,1827 322,1827 322,1823 322,1827 330,1827 338,1831 342,1831 342,1831 346,1831 346,1831 350,1831 350,1831 350,1831 354,1835 362,1835 366,1835 366,1835 374,1835 374,1839 386,1843 386,1839 390,1843 394,1843 394,1843 394,1843 398,1847 402,1847 402,1847 406,1847 406,1847 410,1847 414,1847 414,1851 418,1851 422,1851 426,1855 430,1855 430,1855 434,1855 434,1855 438,1855 442,1855 442,1859 450,1863 454,1863 454,1863 458,1863 462,1867 466,1867 466,1867 470,1871 470,1867 470,1867 474,1871 478,1871 482,1875 486,1871 486,1875 490,1875 494,1879 506,1883 506,1883 506,1883 510,1883 514,1883 518,1887 518,1887 522,1887 522,1891 526,1891 526,1891 530,1891 538,1895 542,1895 546,1895 546,1899 546,1899 562,1903 566,1907 574,1907 574,1907 586,1911 586,1911 590,1915 598,1919 598,1919 606,1923 610,1919 618,1927 622,1927 626,1923 626,1927 626,1927 626,1927 630,1931 634,1931 638,1931 638,1935 646,1935 646,1935 650,1935 650,1939 658,1939 658,1939 662,1943 666,1943 670,1943 670,1943 670,1943 674,1947 678,1947 678,1943 678,1943 686,1947 690,1947 690,1951 698,1951 706,1959 706,1959 706,1955 710,1959 714,1955 714,1959 714,1959 718,1963 718,1963 722,1963 730,1963 734,1967 734,1971 734,1971 742,1971 742,1971 750,1975 754,1975 762,1975 770,1983 774,1983 778,1983 782,1991 782,1987 786,1987 790,1987 802,1987 810,1995 814,1995 814,2003 818,2007 826,2003 830,2007 834,2007 834,2007 838,2007 838,2007 846,2007 850,2011 862,2015 862,2015 882,2023 882,2027 894,2027 902,2027 906,2031 906,2039 910,2031 918,2039 918,2035 922,2039 930,2043 934,2043 934,2039 938,2047 938,2047 942,2043 950,2047 954,2047 970,2055 970,2051 970,2055 978,2055 990,2059 990,2063 994,2063 998,2063 998,2063 1002,2063 1002,2063 1006,2059 1010,2063 1014,2067 1014,2067 1018,2071 1018,2067 1026,2071 1026,2067 1030,2079 1034,2071 1034,2071 1038,2075 1038,2075 1042,2075 1046,2075 1050,2075 1054,2083 1062,2079 1062,2079 1066,2087 1070,2091 1070,2091 1070,2087 1078,2091 1078,2091 1082,2083 1086,2087 1090,2099 1094,2095 1098,2103 1102,2103 1110,2099 1110,2099 1114,2103 1126,2111 1130,2115 1130,2107 1134,2107 1134,2111 1142,2115 1154,2123 1154,2119 1158,2107 1162,2115 1166,2119 1174,2131 1178,2127 1186,2123 1190,2131 1198,2139 1206,2147 1214,2123 1214,2139 1218,2139 1218,2135 1222,2135 1226,2139 1230,2139 1238,2147 1242,2139 1242,2135 1246,2139 1250,2139 1250,2143 1250,2143 1254,2143 1254,2131 1258,2139 1258,2139 1262,2143 1262,2151 1266,2139 1270,2155 1270,2151 1270,2155 1274,2159 1274,2155 1282,2139 1290,2147 1294,2147 1298,2159 1302,2151 1306,2151 1314,2159 1322,2159 1326,2151 1330,2163 1334,2163 1338,2159 1342,2159 1350,2155 1354,2147 1374,2159 1402,2163 218,2115 226,1959 230,1951 230,1935 242,1895 242,1891 246,1875 246,1867 250,1867 250,1859 254,1851" marker-start="url(#s5_1212)" marker-mid="url(#s5_1212)" marker-end="url(#s5_1212)"/>
<polyline points="218,2143 222,1999 226,1975 230,1939 234,1919 234,1911 246,1871 250,1863 258,1839 258,1835 262,1831 262,1831 266,1823 266,1827 270,1823 274,1819 278,1819 278,1819 298,1819 314,1823 318,1823 326,1827 330,1823 338,1827 350,1831 354,1831 366,1831 370,1835 374,1839 378,1835 378,1835 382,1839 382,1839 394,1843 406,1843 410,1847 410,1847 434,1855 438,1855 446,1855 450,1859 454,1859 462,1863 470,1867 474,1867 478,1871 490,1875 494,1875 494,1875 502,1879 502,1879 502,1879 506,1879 530,1887 534,1891 538,1891 542,1891 546,1895 558,1899 562,1899 570,1903 570,1903 578,1911 582,1907 594,1915 614,1923 614,1919 622,1923 622,1923 630,1927 630,1927 634,1931 650,1935 662,1935 666,1939 670,1943 670,1943 674,1943 678,1947 682,1947 686,1947 686,1947 690,1947 690,1951 698,1951 714,1955 722,1959 722,1963 726,1963 726,1959 734,1967 738,1967 738,1971 742,1967 746,1971 750,1975 754,1975 762,1975 766,1979 770,1975 770,1979 770,1983 774,1983 790,1991 794,1991 806,1999 806,1995 810,1995 810,1995 830,1999 838,2003 842,2007 842,2007 846,2007 846,2011 850,2007 850,2011 854,2011 862,2015 866,2011 866,2011 870,2019 878,2015 878,2023 890,2023 898,2031 902,2027 910,2031 910,2031 914,2039 918,2035 922,2035 926,2035 934,2043 938,2043 942,2047 946,2047 946,2047 950,2039 958,2051 958,2047 958,2047 962,2047 962,2047 962,2055 966,2055 974,2063 982,2055 986,2059 994,2059 998,2063 1002,2063 1010,2063 1010,2059 1018,2059 1018,2067 1026,2063 1034,2067 1038,2075 1054,2079 1066,2079 1078,2087 1086,2099 1086,2095 1094,2095 1118,2103 1122,2111 1126,2103 1126,2107 1126,2107 1134,2111 1134,2111 1138,2107 1146,2119 1146,2115 1150,2111 1158,2111 1162,2123 1166,2115 1170,2107 1170,2123 1174,2131 1178,2135 1182,2131 1190,2135 1194,2135 1198,2127 1206,2139 1206,2131 1210,2139 1214,2127 1218,2139 1218,2139 1222,2131 1234,2135 1250,2143 1266,2143 1290,2143 1290,2151 1294,2143 1298,2159 1310,2147 1326,2155 1330,2155 1346,2159 1358,2159 1362,2163 1374,2159 214,2159 218,2075 222,1983 230,1955 230,1939 234,1919 238,1911 250,1851 254,1851" marker-start="url(#s5_1216)" marker-mid="url(#s5_1216)" marker-end="url(#s5_1216)"/>
<line x1="310" y1="1812.0" x2="1244.8" y2="2161" stroke="#000" stroke-width="11" stroke-dasharray="25 18.5"/>
</g>
<text><tspan class="r" x="1217.3" y="146.1">[</tspan><tspan class="b" x="1237.4 1286.0" y="146.1">Nd</tspan><tspan class="s" x="1329.1 1352.8" y="118.0">3+</tspan><tspan class="r" x="1381.6" y="146.1">]</tspan><tspan class="b" x="1411.6 1418.2 1448.2 1475.2 1510.4 1531.3" y="146.1"> = 0.2</tspan><tspan class="p" x="1567.6" y="146.1">%</tspan></text>
<text class="tau" text-anchor="middle" transform="translate(1255.55,234.5) scale(1.4,1)">τ</text>
<text class="b" y="234.5" x="1281.9 1321.9 1339.3 1375.7 1414.2 1430.9 1460.9 1485.7 1547.5">= 21.6 ms</text>
<text><tspan class="r" x="1217.3" y="590.4">[</tspan><tspan class="b" x="1237.4 1286.0" y="590.4">Nd</tspan><tspan class="s" x="1329.1 1352.8" y="557.5">3+</tspan><tspan class="r" x="1381.6" y="590.4">]</tspan><tspan class="b" x="1411.6 1418.2 1448.2 1475.2 1510.4 1530.7" y="590.4"> = 0.5</tspan><tspan class="p" x="1568.5" y="590.4">%</tspan></text>
<text class="tau" text-anchor="middle" transform="translate(1255.65,675.3) scale(1.4,1)">τ</text>
<text class="b" y="675.3" x="1281.6 1321.6 1339.0 1379.9 1415.2 1430.9 1460.9 1484.3 1547.5">= 20.9 ms</text>
<text><tspan class="r" x="1220.9" y="1018.8">[</tspan><tspan class="b" x="1242.5 1291.1" y="1018.8">Nd</tspan><tspan class="s" x="1332.1 1356.3" y="986.3">3+</tspan><tspan class="r" x="1381.2" y="1018.8">]</tspan><tspan class="b" x="1411.2 1417.8 1447.8 1476.1" y="1018.8"> = 1</tspan><tspan class="p" x="1516.4" y="1018.8">%</tspan></text>
<text class="tau" text-anchor="middle" transform="translate(1231.2,1104.0) scale(1.4,1)">τ</text>
<text class="b" y="1104.0" x="1257.8 1297.8 1311.2 1349.5 1389.3 1407.0 1437.0 1460.5 1523.1">= 19.6 ms</text>
<text><tspan class="r" x="1217.3" y="1446.7">[</tspan><tspan class="b" x="1237.4 1286.0" y="1446.7">Nd</tspan><tspan class="s" x="1329.1 1352.8" y="1419.0">3+</tspan><tspan class="r" x="1381.6" y="1446.7">]</tspan><tspan class="b" x="1411.6 1418.2 1448.2 1471.3 1511.1 1530.7" y="1446.7"> = 1.5</tspan><tspan class="p" x="1568.5" y="1446.7">%</tspan></text>
<text class="tau" text-anchor="middle" transform="translate(1255.65,1535.3) scale(1.4,1)">τ</text>
<text class="b" y="1535.3" x="1281.6 1321.6 1336.3 1374.7 1411.2 1428.3 1458.3 1484.3 1544.9">= 19.1 ms</text>
<text><tspan class="r" x="1220.9" y="1879.7">[</tspan><tspan class="b" x="1242.5 1291.1" y="1879.7">Nd</tspan><tspan class="s" x="1332.1 1356.3" y="1846.8">3+</tspan><tspan class="r" x="1381.2" y="1879.7">]</tspan><tspan class="b" x="1411.2 1417.3 1447.3 1478.0" y="1879.7"> = 2</tspan><tspan class="p" x="1516.9" y="1879.7">%</tspan></text>
<text class="tau" text-anchor="middle" transform="translate(1231.2,1964.0) scale(1.4,1)">τ</text>
<text class="b" y="1964.0" x="1257.8 1297.8 1311.2 1350.0 1387.3 1403.8 1433.8 1460.5 1519.7">= 18.1 ms</text>
<text class="t" y="2264" x="145.6 186.8 205.7 249.4">0.00</text>
<text class="t" y="2264" x="618.5 663.7 682.5 722.4">0.05</text>
<text class="t" y="2264" x="1094.4 1135.8 1152.0 1194.7">0.10</text>
<text class="t" y="2264" x="1567.3 1608.8 1624.5 1667.4">0.15</text>
<text class="title" text-anchor="middle" transform="translate(928.5,2400) scale(0.964,1)">Time (ms)</text>
<text class="title" text-anchor="middle" transform="translate(110.5,1123.3) rotate(-90) scale(0.959,1)">Intensity (a. u.)</text>
</svg></body></html>
